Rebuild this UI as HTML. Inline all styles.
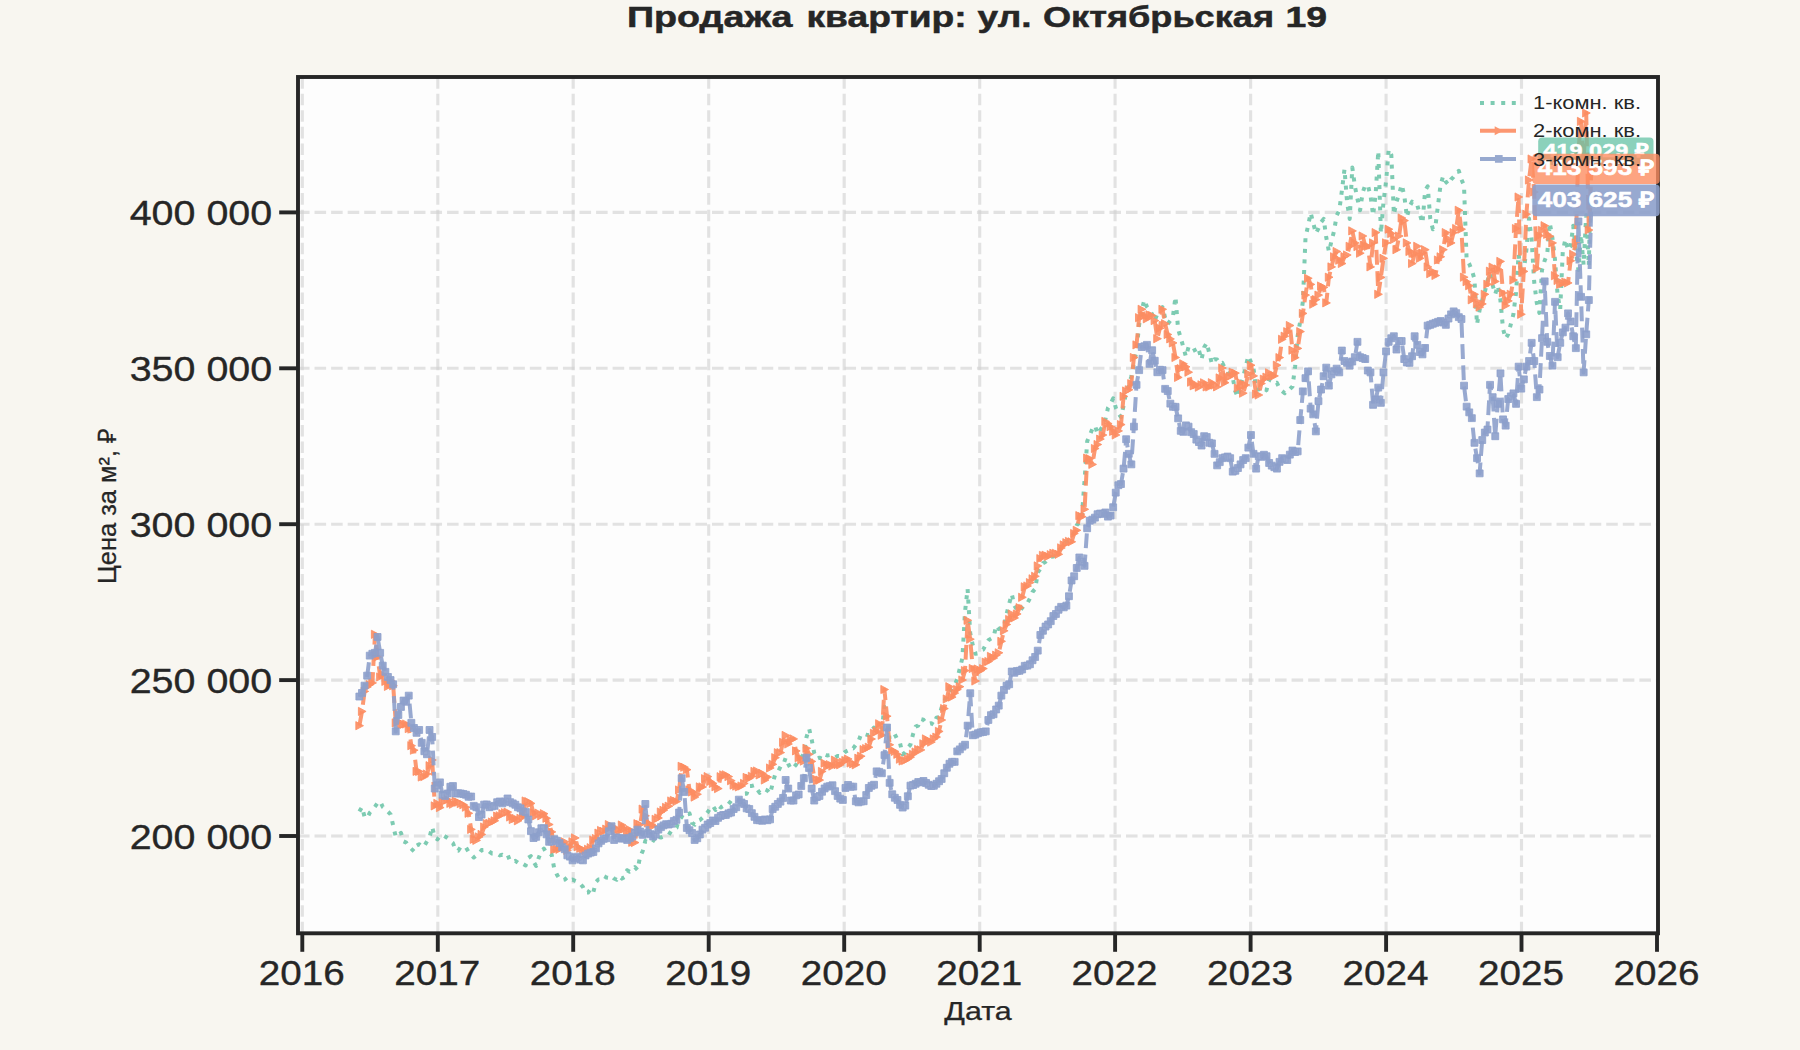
<!DOCTYPE html><html><head><meta charset="utf-8"><style>html,body{margin:0;padding:0;background:#f8f6f0}svg{display:block}text{font-family:"Liberation Sans",sans-serif}</style></head><body>
<svg width="1800" height="1050" viewBox="0 0 1800 1050">
<rect width="1800" height="1050" fill="#f8f6f0"/>
<rect x="298" y="77" width="1360" height="856.3" fill="#fdfdfd"/>
<g stroke="#d0d0d0" stroke-opacity="0.6" stroke-width="3.125" stroke-dasharray="11.56 5" fill="none">
<path d="M302.3,933.3V77"/>
<path d="M437.8,933.3V77"/>
<path d="M573.2,933.3V77"/>
<path d="M708.7,933.3V77"/>
<path d="M844.2,933.3V77"/>
<path d="M979.7,933.3V77"/>
<path d="M1115.1,933.3V77"/>
<path d="M1250.6,933.3V77"/>
<path d="M1386.1,933.3V77"/>
<path d="M1521.5,933.3V77"/>
<path d="M298,212.4H1658"/>
<path d="M298,368.3H1658"/>
<path d="M298,524.2H1658"/>
<path d="M298,680.1H1658"/>
<path d="M298,836.0H1658"/>
</g>
<clipPath id="c"><rect x="298" y="77" width="1360" height="856.3"/></clipPath>
<g clip-path="url(#c)">
<path d="M359.4,811.4 L362.0,807.0 L364.6,817.0 L367.2,818.0 L369.8,812.7 L372.4,810.0 L375.0,806.6 L377.6,802.9 L380.2,801.4 L382.8,807.0 L385.4,809.1 L388.0,811.7 L390.6,814.3 L393.2,825.7 L395.8,837.0 L398.4,835.0 L401.0,832.9 L403.6,841.4 L406.2,842.6 L408.8,846.5 L411.4,848.9 L414.0,851.4 L416.6,845.7 L419.2,844.2 L421.8,847.0 L424.4,845.8 L427.0,841.3 L429.6,837.0 L432.2,827.0 L434.8,837.5 L437.4,839.4 L440.0,835.9 L442.6,835.0 L445.2,836.5 L447.8,838.3 L450.4,841.2 L453.0,843.2 L455.6,849.9 L458.2,850.7 L460.8,846.6 L463.4,847.4 L466.0,847.5 L468.6,851.9 L471.2,854.8 L473.8,857.5 L476.4,855.4 L479.0,853.8 L481.6,850.1 L484.2,849.9 L486.8,849.5 L489.4,851.7 L492.0,853.5 L494.6,853.4 L497.2,853.5 L499.8,855.4 L502.4,854.8 L505.0,856.2 L507.6,854.8 L510.2,861.3 L512.8,861.6 L515.3,860.8 L517.9,862.7 L520.5,864.7 L523.1,863.9 L525.7,865.4 L528.3,857.9 L530.9,856.2 L533.5,861.7 L536.1,866.0 L538.7,857.9 L541.3,851.2 L543.9,848.6 L546.5,853.1 L549.1,853.3 L551.7,854.8 L554.3,869.1 L556.9,874.6 L559.5,878.8 L562.1,880.2 L564.7,879.6 L567.3,877.4 L569.9,880.2 L572.5,879.6 L575.1,880.8 L577.7,881.8 L580.3,883.9 L582.9,886.9 L585.5,892.6 L588.1,892.6 L590.7,888.8 L593.3,892.3 L595.9,882.0 L598.5,879.4 L601.1,879.2 L603.7,876.0 L606.3,877.4 L608.9,877.8 L611.5,876.0 L614.1,878.5 L616.7,879.7 L619.3,876.2 L621.9,878.6 L624.5,877.1 L627.1,870.2 L629.7,871.7 L632.3,869.9 L634.9,867.2 L637.5,870.0 L640.1,856.7 L642.7,851.1 L645.3,840.9 L647.9,842.7 L650.5,840.0 L653.1,840.0 L655.7,841.8 L658.3,837.0 L660.9,837.5 L663.5,836.6 L666.1,836.0 L668.7,834.9 L671.3,830.8 L673.9,829.3 L676.5,827.8 L679.1,819.4 L681.7,816.7 L684.3,818.1 L686.9,814.8 L689.5,813.4 L692.1,822.9 L694.7,824.7 L697.3,821.2 L699.9,820.1 L702.5,817.7 L705.1,815.7 L707.7,812.2 L710.3,808.3 L712.9,805.9 L715.5,810.0 L718.1,805.3 L720.7,807.4 L723.3,805.9 L725.9,804.0 L728.5,804.1 L731.1,800.8 L733.7,801.4 L736.3,799.9 L738.9,800.0 L741.5,796.7 L744.1,793.9 L746.7,793.7 L749.3,786.0 L751.9,785.9 L754.5,785.1 L757.1,789.2 L759.7,792.9 L762.3,790.1 L764.9,789.4 L767.5,790.5 L770.1,793.7 L772.7,783.4 L775.3,774.0 L777.9,771.9 L780.5,766.7 L783.1,765.4 L785.7,757.7 L788.3,764.0 L790.9,768.9 L793.5,767.6 L796.1,764.6 L798.7,760.1 L801.3,757.1 L803.9,754.3 L806.5,737.1 L809.1,728.6 L811.7,739.7 L814.3,753.4 L816.9,758.8 L819.5,757.7 L822.0,758.7 L824.6,754.4 L827.2,755.5 L829.8,755.1 L832.4,756.4 L835.0,757.7 L837.6,756.0 L840.2,756.2 L842.8,754.6 L845.4,751.7 L848.0,750.5 L850.6,748.0 L853.2,748.4 L855.8,744.8 L858.4,741.7 L861.0,734.3 L863.6,733.8 L866.2,734.6 L868.8,735.2 L871.4,730.8 L874.0,727.6 L876.6,729.4 L879.2,727.9 L881.8,729.5 L884.4,706.7 L887.0,718.1 L889.6,739.0 L892.2,738.1 L894.8,734.3 L897.4,739.6 L900.0,742.9 L902.6,754.3 L905.2,752.5 L907.8,747.5 L910.4,744.8 L913.0,734.3 L915.6,726.7 L918.2,725.6 L920.8,719.0 L923.4,719.7 L926.0,723.3 L928.6,723.8 L931.2,723.2 L933.8,724.8 L936.4,717.8 L939.0,717.1 L941.6,707.6 L944.2,702.0 L946.8,695.2 L949.4,692.3 L952.0,688.4 L954.6,685.7 L957.2,679.0 L959.8,668.5 L962.4,658.0 L965.0,611.9 L967.6,588.9 L970.2,632.9 L972.8,645.4 L975.4,653.8 L978.0,653.4 L980.6,650.5 L983.2,649.6 L985.8,644.4 L988.4,640.2 L991.0,638.6 L993.6,637.1 L996.2,625.5 L998.8,629.0 L1001.4,627.7 L1004.0,626.6 L1006.6,614.0 L1009.2,603.6 L1011.8,594.1 L1014.4,605.7 L1017.0,609.7 L1019.6,611.9 L1022.2,607.8 L1024.8,604.5 L1027.4,603.2 L1030.0,598.3 L1032.6,591.8 L1035.2,588.9 L1037.8,572.4 L1040.4,569.0 L1043.0,563.2 L1045.6,561.7 L1048.2,558.9 L1050.8,556.8 L1053.4,556.4 L1056.0,551.0 L1058.6,550.2 L1061.2,548.5 L1063.8,545.4 L1066.4,541.8 L1069.0,540.8 L1071.6,536.5 L1074.2,532.6 L1076.8,525.0 L1079.4,522.6 L1082.0,514.6 L1084.6,480.0 L1087.2,441.3 L1089.8,435.0 L1092.4,428.7 L1095.0,425.6 L1097.6,434.0 L1100.2,430.0 L1102.8,426.4 L1105.4,419.3 L1108.0,407.8 L1110.6,403.8 L1113.2,398.4 L1115.8,407.8 L1118.4,413.5 L1121.0,417.2 L1123.6,405.7 L1126.2,392.0 L1128.8,385.7 L1131.3,376.4 L1133.9,362.9 L1136.5,351.2 L1139.1,325.0 L1141.7,310.4 L1144.3,299.9 L1146.9,306.7 L1149.5,310.4 L1152.1,314.2 L1154.7,320.9 L1157.3,314.0 L1159.9,311.3 L1162.5,307.2 L1165.1,317.7 L1167.7,324.0 L1170.3,320.7 L1172.9,316.7 L1175.5,296.8 L1178.1,329.2 L1180.7,337.6 L1183.3,347.0 L1185.9,356.5 L1188.5,347.3 L1191.1,346.0 L1193.7,348.0 L1196.3,353.5 L1198.9,350.2 L1201.5,359.6 L1204.1,347.5 L1206.7,342.9 L1209.3,353.3 L1211.9,363.8 L1214.5,359.3 L1217.1,359.6 L1219.7,363.7 L1222.3,362.8 L1224.9,368.3 L1227.5,372.2 L1230.1,376.2 L1232.7,377.4 L1235.3,391.3 L1237.9,397.2 L1240.5,384.8 L1243.1,377.4 L1245.7,366.7 L1248.3,356.0 L1250.9,362.0 L1253.5,368.2 L1256.1,389.6 L1258.7,389.5 L1261.3,387.3 L1263.9,388.1 L1266.5,390.3 L1269.1,379.7 L1271.7,380.8 L1274.3,383.6 L1276.9,382.7 L1279.5,388.5 L1282.1,391.1 L1284.7,393.2 L1287.3,389.6 L1289.9,389.1 L1292.5,386.5 L1295.1,366.7 L1297.7,335.5 L1300.3,321.0 L1302.9,301.2 L1305.5,237.7 L1308.1,225.7 L1310.7,212.9 L1313.3,223.2 L1315.9,233.4 L1318.5,228.3 L1321.1,222.3 L1323.7,218.9 L1326.3,237.7 L1328.9,251.5 L1331.5,241.2 L1334.1,230.9 L1336.7,215.4 L1339.3,210.3 L1341.9,190.6 L1344.5,169.1 L1347.1,202.6 L1349.7,218.9 L1352.3,167.4 L1354.9,186.3 L1357.5,199.2 L1360.1,210.3 L1362.7,192.3 L1365.3,185.2 L1367.9,185.4 L1370.5,195.7 L1373.1,215.4 L1375.7,193.2 L1378.3,151.1 L1380.9,233.4 L1383.5,201.7 L1386.1,181.0 L1388.7,149.4 L1391.3,154.6 L1393.9,214.6 L1396.5,201.8 L1399.1,194.0 L1401.7,184.6 L1404.3,195.7 L1406.9,217.2 L1409.5,206.6 L1412.1,201.7 L1414.7,204.7 L1417.3,205.2 L1419.9,214.6 L1422.5,223.2 L1425.1,190.6 L1427.7,186.3 L1430.3,218.9 L1432.9,229.2 L1435.5,225.7 L1438.0,205.2 L1440.6,184.6 L1443.2,176.0 L1445.8,181.7 L1448.4,184.6 L1451.0,179.5 L1453.6,176.9 L1456.2,173.1 L1458.8,170.9 L1461.4,179.4 L1464.0,185.4 L1466.6,259.2 L1469.2,263.8 L1471.8,270.3 L1474.4,278.6 L1477.0,324.3 L1479.6,310.0 L1482.2,300.0 L1484.8,292.0 L1487.4,281.0 L1490.0,272.9 L1492.6,285.0 L1495.2,294.3 L1497.8,285.7 L1500.4,300.0 L1503.0,328.6 L1505.6,338.6 L1508.2,334.3 L1510.8,324.3 L1513.4,314.3 L1516.0,292.9 L1518.6,254.3 L1521.2,274.3 L1523.8,270.0 L1526.4,249.8 L1529.0,218.6 L1531.6,239.3 L1534.2,282.1 L1536.8,302.9 L1539.4,312.9 L1542.0,270.0 L1544.6,260.7 L1547.2,254.3 L1549.8,222.9 L1552.4,237.9 L1555.0,259.7 L1557.6,295.0 L1560.2,309.3 L1562.8,250.9 L1565.4,239.3 L1568.0,250.1 L1570.6,246.4 L1573.2,225.7 L1575.8,250.0 L1578.4,270.0 L1581.0,235.0 L1583.6,265.0 L1586.2,215.0 L1588.8,265.7 L1591.4,153.1" fill="none" stroke="#66c2a5" stroke-opacity="0.85" stroke-width="4" stroke-dasharray="4 6.6" stroke-linejoin="round"/>
<path d="M359.4,725.7 L362.0,711.4 L364.6,691.4 L367.2,687.0 L369.8,684.7 L372.4,682.9 L375.0,634.3 L377.6,657.0 L380.2,677.0 L382.8,674.5 L385.4,681.4 L388.0,686.4 L390.6,680.4 L393.2,685.7 L395.8,722.9 L398.4,721.6 L401.0,725.0 L403.6,724.3 L406.2,724.0 L408.8,728.6 L411.4,745.7 L414.0,750.2 L416.6,771.4 L419.2,771.5 L421.8,777.0 L424.4,776.6 L427.0,774.0 L429.6,765.7 L432.2,760.0 L434.8,805.9 L437.4,803.4 L440.0,807.6 L442.6,801.8 L445.2,801.0 L447.8,799.7 L450.4,803.4 L453.0,804.2 L455.6,801.2 L458.2,802.2 L460.8,803.6 L463.4,804.7 L466.0,807.2 L468.6,813.3 L471.2,829.4 L473.8,839.3 L476.4,840.4 L479.0,836.9 L481.6,834.4 L484.2,827.0 L486.8,823.6 L489.4,823.3 L492.0,822.0 L494.6,820.8 L497.2,816.1 L499.8,815.8 L502.4,813.6 L505.0,812.7 L507.6,812.1 L510.2,817.0 L512.8,819.5 L515.3,818.3 L517.9,820.8 L520.5,818.3 L523.1,816.0 L525.7,801.0 L528.3,801.6 L530.9,803.4 L533.5,812.7 L536.1,815.8 L538.7,813.2 L541.3,815.8 L543.9,813.7 L546.5,818.3 L549.1,824.5 L551.7,831.9 L554.3,849.3 L556.9,849.0 L559.5,849.3 L562.1,843.6 L564.7,841.8 L567.3,850.3 L569.9,846.8 L572.5,841.8 L575.1,837.9 L577.7,846.8 L580.3,848.3 L582.9,850.5 L585.5,850.8 L588.1,849.3 L590.7,847.7 L593.3,840.0 L595.9,838.5 L598.5,833.1 L601.1,830.5 L603.7,831.4 L606.3,829.1 L608.9,824.6 L611.5,827.1 L614.1,827.2 L616.7,829.7 L619.3,831.1 L621.9,825.0 L624.5,828.9 L627.1,833.3 L629.7,829.7 L632.3,842.3 L634.9,842.6 L637.5,823.7 L640.1,824.6 L642.7,809.1 L645.3,815.8 L647.9,822.9 L650.5,824.9 L653.1,826.0 L655.7,819.3 L658.3,818.0 L660.9,812.0 L663.5,810.3 L666.1,807.4 L668.7,806.2 L671.3,801.0 L673.9,800.4 L676.5,801.5 L679.1,790.0 L681.7,766.3 L684.3,767.2 L686.9,769.7 L689.5,789.9 L692.1,792.0 L694.7,797.1 L697.3,794.3 L699.9,786.9 L702.5,786.9 L705.1,778.7 L707.7,776.6 L710.3,781.5 L712.9,783.4 L715.5,786.8 L718.1,788.6 L720.7,776.7 L723.3,774.9 L725.9,774.8 L728.5,776.6 L731.1,780.7 L733.7,785.1 L736.3,786.1 L738.9,786.9 L741.5,786.0 L744.1,783.4 L746.7,777.4 L749.3,778.3 L751.9,776.3 L754.5,771.4 L757.1,771.0 L759.7,774.9 L762.3,773.4 L764.9,780.0 L767.5,777.1 L770.1,768.0 L772.7,764.3 L775.3,757.7 L777.9,752.7 L780.5,752.6 L783.1,742.3 L785.7,735.4 L788.3,744.0 L790.9,740.0 L793.5,738.9 L796.1,750.9 L798.7,757.7 L801.3,759.8 L803.9,761.1 L806.5,748.3 L809.1,754.3 L811.7,761.4 L814.3,778.3 L816.9,780.9 L819.5,780.1 L822.0,771.4 L824.6,763.2 L827.2,766.3 L829.8,764.6 L832.4,766.1 L835.0,760.1 L837.6,764.6 L840.2,764.8 L842.8,762.2 L845.4,760.5 L848.0,759.0 L850.6,763.0 L853.2,763.8 L855.8,764.8 L858.4,758.2 L861.0,756.2 L863.6,749.6 L866.2,748.6 L868.8,747.2 L871.4,739.0 L874.0,733.3 L876.6,731.3 L879.2,723.8 L881.8,735.2 L884.4,689.5 L887.0,716.2 L889.6,744.8 L892.2,750.5 L894.8,751.4 L897.4,754.3 L900.0,759.2 L902.6,761.0 L905.2,760.5 L907.8,759.0 L910.4,757.2 L913.0,754.3 L915.6,752.0 L918.2,749.5 L920.8,749.9 L923.4,743.8 L926.0,738.9 L928.6,741.0 L931.2,742.1 L933.8,738.9 L936.4,737.1 L939.0,731.4 L941.6,720.0 L944.2,708.6 L946.8,699.0 L949.4,686.7 L952.0,697.1 L954.6,693.1 L957.2,689.5 L959.8,686.7 L962.4,680.0 L965.0,670.6 L967.6,620.3 L970.2,639.2 L972.8,668.5 L975.4,681.0 L978.0,669.0 L980.6,670.6 L983.2,668.6 L985.8,662.2 L988.4,661.5 L991.0,656.4 L993.6,658.0 L996.2,655.2 L998.8,652.8 L1001.4,641.3 L1004.0,630.8 L1006.6,624.5 L1009.2,619.5 L1011.8,614.0 L1014.4,617.9 L1017.0,614.0 L1019.6,607.7 L1022.2,597.3 L1024.8,586.8 L1027.4,586.0 L1030.0,582.6 L1032.6,578.8 L1035.2,576.3 L1037.8,565.9 L1040.4,558.6 L1043.0,555.4 L1045.6,555.2 L1048.2,556.4 L1050.8,554.7 L1053.4,553.3 L1056.0,553.3 L1058.6,554.3 L1061.2,547.9 L1063.8,544.9 L1066.4,542.7 L1069.0,541.4 L1071.6,541.8 L1074.2,533.5 L1076.8,530.3 L1079.4,515.6 L1082.0,516.7 L1084.6,509.3 L1087.2,458.1 L1089.8,458.7 L1092.4,464.4 L1095.0,448.5 L1097.6,444.5 L1100.2,439.1 L1102.8,435.0 L1105.4,421.4 L1108.0,423.6 L1110.6,426.7 L1113.2,431.4 L1115.8,435.0 L1118.4,430.9 L1121.0,424.6 L1123.6,396.3 L1126.2,391.0 L1128.8,389.8 L1131.3,383.7 L1133.9,357.5 L1136.5,344.9 L1139.1,317.7 L1141.7,309.3 L1144.3,315.7 L1146.9,318.8 L1149.5,314.8 L1152.1,315.6 L1154.7,320.6 L1157.3,338.7 L1159.9,328.2 L1162.5,309.3 L1165.1,323.7 L1167.7,334.5 L1170.3,338.9 L1172.9,342.9 L1175.5,357.5 L1178.1,377.4 L1180.7,368.7 L1183.3,363.8 L1185.9,366.8 L1188.5,372.2 L1191.1,382.2 L1193.7,385.8 L1196.3,384.9 L1198.9,387.2 L1201.5,384.8 L1204.1,382.8 L1206.7,386.9 L1209.3,387.0 L1211.9,382.7 L1214.5,385.1 L1217.1,386.9 L1219.7,377.9 L1222.3,368.0 L1224.9,382.7 L1227.5,377.1 L1230.1,376.4 L1232.7,372.2 L1235.3,373.1 L1237.9,388.0 L1240.5,382.7 L1243.1,393.2 L1245.7,385.0 L1248.3,373.7 L1250.9,365.2 L1253.5,375.9 L1256.1,394.1 L1258.7,395.0 L1261.3,383.5 L1263.9,379.2 L1266.5,377.1 L1269.1,372.8 L1271.7,376.2 L1274.3,375.9 L1276.9,365.2 L1279.5,357.6 L1282.1,339.3 L1284.7,336.2 L1287.3,331.7 L1289.9,325.5 L1292.5,350.2 L1295.1,357.6 L1297.7,348.4 L1300.3,331.6 L1302.9,313.4 L1305.5,295.1 L1308.1,278.3 L1310.7,284.4 L1313.3,304.2 L1315.9,299.6 L1318.5,295.1 L1321.1,286.0 L1323.7,287.4 L1326.3,302.9 L1328.9,277.2 L1331.5,266.9 L1334.1,256.8 L1336.7,251.5 L1339.3,260.2 L1341.9,263.5 L1344.5,256.6 L1347.1,255.0 L1349.7,246.3 L1352.3,230.9 L1354.9,242.9 L1357.5,246.6 L1360.1,253.2 L1362.7,236.0 L1365.3,246.3 L1367.9,246.3 L1370.5,266.9 L1373.1,242.9 L1375.7,232.6 L1378.3,294.3 L1380.9,277.4 L1383.5,258.3 L1386.1,242.9 L1388.7,229.2 L1391.3,233.5 L1393.9,239.5 L1396.5,249.7 L1399.1,236.0 L1401.7,218.0 L1404.3,220.6 L1406.9,242.9 L1409.5,251.5 L1412.1,263.5 L1414.7,253.7 L1417.3,246.3 L1419.9,258.3 L1422.5,253.0 L1425.1,249.7 L1427.7,266.9 L1430.3,273.7 L1432.9,271.6 L1435.5,275.5 L1438.0,260.0 L1440.6,256.8 L1443.2,249.7 L1445.8,232.6 L1448.4,238.9 L1451.0,242.9 L1453.6,232.6 L1456.2,228.5 L1458.8,210.3 L1461.4,229.2 L1464.0,277.2 L1466.6,281.7 L1469.2,285.7 L1471.8,299.8 L1474.4,294.3 L1477.0,303.8 L1479.6,307.1 L1482.2,303.9 L1484.8,294.3 L1487.4,284.3 L1490.0,271.2 L1492.6,267.1 L1495.2,281.4 L1497.8,269.0 L1500.4,261.4 L1503.0,292.9 L1505.6,305.7 L1508.2,300.9 L1510.8,294.3 L1513.4,280.0 L1516.0,228.6 L1518.6,197.0 L1521.2,314.3 L1523.8,271.4 L1526.4,214.3 L1529.0,180.0 L1531.6,159.0 L1534.2,192.0 L1536.8,268.6 L1539.4,235.7 L1542.0,230.4 L1544.6,225.7 L1547.2,234.3 L1549.8,236.3 L1552.4,242.9 L1555.0,275.7 L1557.6,280.5 L1560.2,284.3 L1562.8,283.2 L1565.4,282.1 L1568.0,282.9 L1570.6,260.8 L1573.2,254.3 L1575.8,242.9 L1578.4,150.0 L1581.0,121.4 L1583.6,160.0 L1586.2,113.0 L1588.8,230.0 L1591.4,170.0" fill="none" stroke="#fc8d62" stroke-opacity="0.9" stroke-width="4" stroke-dasharray="14.8 6.4" stroke-linejoin="round"/>
<path d="M355.8,721.6L363.5,725.7L355.8,729.8zM358.4,707.3L366.1,711.4L358.4,715.5zM361.0,687.3L368.7,691.4L361.0,695.5zM363.6,682.9L371.3,687.0L363.6,691.1zM366.2,680.6L373.9,684.7L366.2,688.8zM368.8,678.8L376.5,682.9L368.8,687.0zM371.4,630.2L379.1,634.3L371.4,638.4zM374.0,652.9L381.7,657.0L374.0,661.1zM376.6,672.9L384.3,677.0L376.6,681.1zM379.2,670.4L386.9,674.5L379.2,678.6zM381.8,677.3L389.5,681.4L381.8,685.5zM384.4,682.3L392.1,686.4L384.4,690.5zM387.0,676.3L394.7,680.4L387.0,684.5zM389.6,681.6L397.3,685.7L389.6,689.8zM392.2,718.8L399.9,722.9L392.2,727.0zM394.8,717.5L402.5,721.6L394.8,725.7zM397.4,720.9L405.1,725.0L397.4,729.1zM400.0,720.2L407.7,724.3L400.0,728.4zM402.6,719.9L410.3,724.0L402.6,728.1zM405.2,724.5L412.9,728.6L405.2,732.7zM407.8,741.6L415.5,745.7L407.8,749.8zM410.4,746.1L418.1,750.2L410.4,754.3zM413.0,767.3L420.7,771.4L413.0,775.5zM415.6,767.4L423.3,771.5L415.6,775.6zM418.2,772.9L425.9,777.0L418.2,781.1zM420.8,772.5L428.5,776.6L420.8,780.7zM423.4,769.9L431.1,774.0L423.4,778.1zM426.0,761.6L433.7,765.7L426.0,769.8zM428.6,755.9L436.3,760.0L428.6,764.1zM431.2,801.8L438.9,805.9L431.2,810.0zM433.8,799.3L441.5,803.4L433.8,807.5zM436.4,803.5L444.1,807.6L436.4,811.7zM439.0,797.7L446.7,801.8L439.0,805.9zM441.6,796.9L449.3,801.0L441.6,805.1zM444.2,795.6L451.9,799.7L444.2,803.8zM446.8,799.3L454.5,803.4L446.8,807.5zM449.4,800.1L457.1,804.2L449.4,808.3zM452.0,797.1L459.7,801.2L452.0,805.3zM454.6,798.1L462.3,802.2L454.6,806.3zM457.2,799.5L464.9,803.6L457.2,807.7zM459.8,800.6L467.5,804.7L459.8,808.8zM462.4,803.1L470.1,807.2L462.4,811.3zM465.0,809.2L472.7,813.3L465.0,817.4zM467.6,825.3L475.3,829.4L467.6,833.5zM470.2,835.2L477.9,839.3L470.2,843.4zM472.8,836.3L480.5,840.4L472.8,844.5zM475.4,832.8L483.1,836.9L475.4,841.0zM478.0,830.3L485.7,834.4L478.0,838.5zM480.6,822.9L488.3,827.0L480.6,831.1zM483.2,819.5L490.9,823.6L483.2,827.7zM485.8,819.2L493.5,823.3L485.8,827.4zM488.4,817.9L496.1,822.0L488.4,826.1zM491.0,816.7L498.7,820.8L491.0,824.9zM493.6,812.0L501.3,816.1L493.6,820.2zM496.2,811.7L503.9,815.8L496.2,819.9zM498.8,809.5L506.5,813.6L498.8,817.7zM501.4,808.6L509.1,812.7L501.4,816.8zM504.0,808.0L511.7,812.1L504.0,816.2zM506.6,812.9L514.3,817.0L506.6,821.1zM509.2,815.4L516.9,819.5L509.2,823.6zM511.7,814.2L519.4,818.3L511.7,822.4zM514.3,816.7L522.0,820.8L514.3,824.9zM516.9,814.2L524.6,818.3L516.9,822.4zM519.5,811.9L527.2,816.0L519.5,820.1zM522.1,796.9L529.8,801.0L522.1,805.1zM524.7,797.5L532.4,801.6L524.7,805.7zM527.3,799.3L535.0,803.4L527.3,807.5zM529.9,808.6L537.6,812.7L529.9,816.8zM532.5,811.7L540.2,815.8L532.5,819.9zM535.1,809.1L542.8,813.2L535.1,817.3zM537.7,811.7L545.4,815.8L537.7,819.9zM540.3,809.6L548.0,813.7L540.3,817.8zM542.9,814.2L550.6,818.3L542.9,822.4zM545.5,820.4L553.2,824.5L545.5,828.6zM548.1,827.8L555.8,831.9L548.1,836.0zM550.7,845.2L558.4,849.3L550.7,853.4zM553.3,844.9L561.0,849.0L553.3,853.1zM555.9,845.2L563.6,849.3L555.9,853.4zM558.5,839.5L566.2,843.6L558.5,847.7zM561.1,837.7L568.8,841.8L561.1,845.9zM563.7,846.2L571.4,850.3L563.7,854.4zM566.3,842.7L574.0,846.8L566.3,850.9zM568.9,837.7L576.6,841.8L568.9,845.9zM571.5,833.8L579.2,837.9L571.5,842.0zM574.1,842.7L581.8,846.8L574.1,850.9zM576.7,844.2L584.4,848.3L576.7,852.4zM579.3,846.4L587.0,850.5L579.3,854.6zM581.9,846.7L589.6,850.8L581.9,854.9zM584.5,845.2L592.2,849.3L584.5,853.4zM587.1,843.6L594.8,847.7L587.1,851.8zM589.7,835.9L597.4,840.0L589.7,844.1zM592.3,834.4L600.0,838.5L592.3,842.6zM594.9,829.0L602.6,833.1L594.9,837.2zM597.5,826.4L605.2,830.5L597.5,834.6zM600.1,827.3L607.8,831.4L600.1,835.5zM602.7,825.0L610.4,829.1L602.7,833.2zM605.3,820.5L613.0,824.6L605.3,828.7zM607.9,823.0L615.6,827.1L607.9,831.2zM610.5,823.1L618.2,827.2L610.5,831.3zM613.1,825.6L620.8,829.7L613.1,833.8zM615.7,827.0L623.4,831.1L615.7,835.2zM618.3,820.9L626.0,825.0L618.3,829.1zM620.9,824.8L628.6,828.9L620.9,833.0zM623.5,829.2L631.2,833.3L623.5,837.4zM626.1,825.6L633.8,829.7L626.1,833.8zM628.7,838.2L636.4,842.3L628.7,846.4zM631.3,838.5L639.0,842.6L631.3,846.7zM633.9,819.6L641.6,823.7L633.9,827.8zM636.5,820.5L644.2,824.6L636.5,828.7zM639.1,805.0L646.8,809.1L639.1,813.2zM641.7,811.7L649.4,815.8L641.7,819.9zM644.3,818.8L652.0,822.9L644.3,827.0zM646.9,820.8L654.6,824.9L646.9,829.0zM649.5,821.9L657.2,826.0L649.5,830.1zM652.1,815.2L659.8,819.3L652.1,823.4zM654.7,813.9L662.4,818.0L654.7,822.1zM657.3,807.9L665.0,812.0L657.3,816.1zM659.9,806.2L667.6,810.3L659.9,814.4zM662.5,803.3L670.2,807.4L662.5,811.5zM665.1,802.1L672.8,806.2L665.1,810.3zM667.7,796.9L675.4,801.0L667.7,805.1zM670.3,796.3L678.0,800.4L670.3,804.5zM672.9,797.4L680.6,801.5L672.9,805.6zM675.5,785.9L683.2,790.0L675.5,794.1zM678.1,762.2L685.8,766.3L678.1,770.4zM680.7,763.1L688.4,767.2L680.7,771.3zM683.3,765.6L691.0,769.7L683.3,773.8zM685.9,785.8L693.6,789.9L685.9,794.0zM688.5,787.9L696.2,792.0L688.5,796.1zM691.1,793.0L698.8,797.1L691.1,801.2zM693.7,790.2L701.4,794.3L693.7,798.4zM696.3,782.8L704.0,786.9L696.3,791.0zM698.9,782.8L706.6,786.9L698.9,791.0zM701.5,774.6L709.2,778.7L701.5,782.8zM704.1,772.5L711.8,776.6L704.1,780.7zM706.7,777.4L714.4,781.5L706.7,785.6zM709.3,779.3L717.0,783.4L709.3,787.5zM711.9,782.7L719.6,786.8L711.9,790.9zM714.5,784.5L722.2,788.6L714.5,792.7zM717.1,772.6L724.8,776.7L717.1,780.8zM719.7,770.8L727.4,774.9L719.7,779.0zM722.3,770.7L730.0,774.8L722.3,778.9zM724.9,772.5L732.6,776.6L724.9,780.7zM727.5,776.6L735.2,780.7L727.5,784.8zM730.1,781.0L737.8,785.1L730.1,789.2zM732.7,782.0L740.4,786.1L732.7,790.2zM735.3,782.8L743.0,786.9L735.3,791.0zM737.9,781.9L745.6,786.0L737.9,790.1zM740.5,779.3L748.2,783.4L740.5,787.5zM743.1,773.3L750.8,777.4L743.1,781.5zM745.7,774.2L753.4,778.3L745.7,782.4zM748.3,772.2L756.0,776.3L748.3,780.4zM750.9,767.3L758.6,771.4L750.9,775.5zM753.5,766.9L761.2,771.0L753.5,775.1zM756.1,770.8L763.8,774.9L756.1,779.0zM758.7,769.3L766.4,773.4L758.7,777.5zM761.3,775.9L769.0,780.0L761.3,784.1zM763.9,773.0L771.6,777.1L763.9,781.2zM766.5,763.9L774.2,768.0L766.5,772.1zM769.1,760.2L776.8,764.3L769.1,768.4zM771.7,753.6L779.4,757.7L771.7,761.8zM774.3,748.6L782.0,752.7L774.3,756.8zM776.9,748.5L784.6,752.6L776.9,756.7zM779.5,738.2L787.2,742.3L779.5,746.4zM782.1,731.3L789.8,735.4L782.1,739.5zM784.7,739.9L792.4,744.0L784.7,748.1zM787.3,735.9L795.0,740.0L787.3,744.1zM789.9,734.8L797.6,738.9L789.9,743.0zM792.5,746.8L800.2,750.9L792.5,755.0zM795.1,753.6L802.8,757.7L795.1,761.8zM797.7,755.7L805.4,759.8L797.7,763.9zM800.3,757.0L808.0,761.1L800.3,765.2zM802.9,744.2L810.6,748.3L802.9,752.4zM805.5,750.2L813.2,754.3L805.5,758.4zM808.1,757.3L815.8,761.4L808.1,765.5zM810.7,774.2L818.4,778.3L810.7,782.4zM813.3,776.8L821.0,780.9L813.3,785.0zM815.9,776.0L823.6,780.1L815.9,784.2zM818.4,767.3L826.1,771.4L818.4,775.5zM821.0,759.1L828.7,763.2L821.0,767.3zM823.6,762.2L831.3,766.3L823.6,770.4zM826.2,760.5L833.9,764.6L826.2,768.7zM828.8,762.0L836.5,766.1L828.8,770.2zM831.4,756.0L839.1,760.1L831.4,764.2zM834.0,760.5L841.7,764.6L834.0,768.7zM836.6,760.7L844.3,764.8L836.6,768.9zM839.2,758.1L846.9,762.2L839.2,766.3zM841.8,756.4L849.5,760.5L841.8,764.6zM844.4,754.9L852.1,759.0L844.4,763.1zM847.0,758.9L854.7,763.0L847.0,767.1zM849.6,759.7L857.3,763.8L849.6,767.9zM852.2,760.7L859.9,764.8L852.2,768.9zM854.8,754.1L862.5,758.2L854.8,762.3zM857.4,752.1L865.1,756.2L857.4,760.3zM860.0,745.5L867.7,749.6L860.0,753.7zM862.6,744.5L870.3,748.6L862.6,752.7zM865.2,743.1L872.9,747.2L865.2,751.3zM867.8,734.9L875.5,739.0L867.8,743.1zM870.4,729.2L878.1,733.3L870.4,737.4zM873.0,727.2L880.7,731.3L873.0,735.4zM875.6,719.7L883.3,723.8L875.6,727.9zM878.2,731.1L885.9,735.2L878.2,739.3zM880.8,685.4L888.5,689.5L880.8,693.6zM883.4,712.1L891.1,716.2L883.4,720.3zM886.0,740.7L893.7,744.8L886.0,748.9zM888.6,746.4L896.3,750.5L888.6,754.6zM891.2,747.3L898.9,751.4L891.2,755.5zM893.8,750.2L901.5,754.3L893.8,758.4zM896.4,755.1L904.1,759.2L896.4,763.3zM899.0,756.9L906.7,761.0L899.0,765.1zM901.6,756.4L909.3,760.5L901.6,764.6zM904.2,754.9L911.9,759.0L904.2,763.1zM906.8,753.1L914.5,757.2L906.8,761.3zM909.4,750.2L917.1,754.3L909.4,758.4zM912.0,747.9L919.7,752.0L912.0,756.1zM914.6,745.4L922.3,749.5L914.6,753.6zM917.2,745.8L924.9,749.9L917.2,754.0zM919.8,739.7L927.5,743.8L919.8,747.9zM922.4,734.8L930.1,738.9L922.4,743.0zM925.0,736.9L932.7,741.0L925.0,745.1zM927.6,738.0L935.3,742.1L927.6,746.2zM930.2,734.8L937.9,738.9L930.2,743.0zM932.8,733.0L940.5,737.1L932.8,741.2zM935.4,727.3L943.1,731.4L935.4,735.5zM938.0,715.9L945.7,720.0L938.0,724.1zM940.6,704.5L948.3,708.6L940.6,712.7zM943.2,694.9L950.9,699.0L943.2,703.1zM945.8,682.6L953.5,686.7L945.8,690.8zM948.4,693.0L956.1,697.1L948.4,701.2zM951.0,689.0L958.7,693.1L951.0,697.2zM953.6,685.4L961.3,689.5L953.6,693.6zM956.2,682.6L963.9,686.7L956.2,690.8zM958.8,675.9L966.5,680.0L958.8,684.1zM961.4,666.5L969.1,670.6L961.4,674.7zM964.0,616.2L971.7,620.3L964.0,624.4zM966.6,635.1L974.3,639.2L966.6,643.3zM969.2,664.4L976.9,668.5L969.2,672.6zM971.8,676.9L979.5,681.0L971.8,685.1zM974.4,664.9L982.1,669.0L974.4,673.1zM977.0,666.5L984.7,670.6L977.0,674.7zM979.6,664.5L987.3,668.6L979.6,672.7zM982.2,658.1L989.9,662.2L982.2,666.3zM984.8,657.4L992.5,661.5L984.8,665.6zM987.4,652.3L995.1,656.4L987.4,660.5zM990.0,653.9L997.7,658.0L990.0,662.1zM992.6,651.1L1000.3,655.2L992.6,659.3zM995.2,648.7L1002.9,652.8L995.2,656.9zM997.8,637.2L1005.5,641.3L997.8,645.4zM1000.4,626.7L1008.1,630.8L1000.4,634.9zM1003.0,620.4L1010.7,624.5L1003.0,628.6zM1005.6,615.4L1013.3,619.5L1005.6,623.6zM1008.2,609.9L1015.9,614.0L1008.2,618.1zM1010.8,613.8L1018.5,617.9L1010.8,622.0zM1013.4,609.9L1021.1,614.0L1013.4,618.1zM1016.0,603.6L1023.7,607.7L1016.0,611.8zM1018.6,593.2L1026.3,597.3L1018.6,601.4zM1021.2,582.7L1028.9,586.8L1021.2,590.9zM1023.8,581.9L1031.5,586.0L1023.8,590.1zM1026.4,578.5L1034.1,582.6L1026.4,586.7zM1029.0,574.7L1036.7,578.8L1029.0,582.9zM1031.6,572.2L1039.3,576.3L1031.6,580.4zM1034.2,561.8L1041.9,565.9L1034.2,570.0zM1036.8,554.5L1044.5,558.6L1036.8,562.7zM1039.4,551.3L1047.1,555.4L1039.4,559.5zM1042.0,551.1L1049.7,555.2L1042.0,559.3zM1044.6,552.3L1052.3,556.4L1044.6,560.5zM1047.2,550.6L1054.9,554.7L1047.2,558.8zM1049.8,549.2L1057.5,553.3L1049.8,557.4zM1052.4,549.2L1060.1,553.3L1052.4,557.4zM1055.0,550.2L1062.7,554.3L1055.0,558.4zM1057.6,543.8L1065.3,547.9L1057.6,552.0zM1060.2,540.8L1067.9,544.9L1060.2,549.0zM1062.8,538.6L1070.5,542.7L1062.8,546.8zM1065.4,537.3L1073.1,541.4L1065.4,545.5zM1068.0,537.7L1075.7,541.8L1068.0,545.9zM1070.6,529.4L1078.3,533.5L1070.6,537.6zM1073.2,526.2L1080.9,530.3L1073.2,534.4zM1075.8,511.5L1083.5,515.6L1075.8,519.7zM1078.4,512.6L1086.1,516.7L1078.4,520.8zM1081.0,505.2L1088.7,509.3L1081.0,513.4zM1083.6,454.0L1091.3,458.1L1083.6,462.2zM1086.2,454.6L1093.9,458.7L1086.2,462.8zM1088.8,460.3L1096.5,464.4L1088.8,468.5zM1091.4,444.4L1099.1,448.5L1091.4,452.6zM1094.0,440.4L1101.7,444.5L1094.0,448.6zM1096.6,435.0L1104.3,439.1L1096.6,443.2zM1099.2,430.9L1106.9,435.0L1099.2,439.1zM1101.8,417.3L1109.5,421.4L1101.8,425.5zM1104.4,419.5L1112.1,423.6L1104.4,427.7zM1107.0,422.6L1114.7,426.7L1107.0,430.8zM1109.6,427.3L1117.3,431.4L1109.6,435.5zM1112.2,430.9L1119.9,435.0L1112.2,439.1zM1114.8,426.8L1122.5,430.9L1114.8,435.0zM1117.4,420.5L1125.1,424.6L1117.4,428.7zM1120.0,392.2L1127.7,396.3L1120.0,400.4zM1122.6,386.9L1130.3,391.0L1122.6,395.1zM1125.2,385.7L1132.9,389.8L1125.2,393.9zM1127.7,379.6L1135.4,383.7L1127.7,387.8zM1130.3,353.4L1138.0,357.5L1130.3,361.6zM1132.9,340.8L1140.6,344.9L1132.9,349.0zM1135.5,313.6L1143.2,317.7L1135.5,321.8zM1138.1,305.2L1145.8,309.3L1138.1,313.4zM1140.7,311.6L1148.4,315.7L1140.7,319.8zM1143.3,314.7L1151.0,318.8L1143.3,322.9zM1145.9,310.7L1153.6,314.8L1145.9,318.9zM1148.5,311.5L1156.2,315.6L1148.5,319.7zM1151.1,316.5L1158.8,320.6L1151.1,324.7zM1153.7,334.6L1161.4,338.7L1153.7,342.8zM1156.3,324.1L1164.0,328.2L1156.3,332.3zM1158.9,305.2L1166.6,309.3L1158.9,313.4zM1161.5,319.6L1169.2,323.7L1161.5,327.8zM1164.1,330.4L1171.8,334.5L1164.1,338.6zM1166.7,334.8L1174.4,338.9L1166.7,343.0zM1169.3,338.8L1177.0,342.9L1169.3,347.0zM1171.9,353.4L1179.6,357.5L1171.9,361.6zM1174.5,373.3L1182.2,377.4L1174.5,381.5zM1177.1,364.6L1184.8,368.7L1177.1,372.8zM1179.7,359.7L1187.4,363.8L1179.7,367.9zM1182.3,362.7L1190.0,366.8L1182.3,370.9zM1184.9,368.1L1192.6,372.2L1184.9,376.3zM1187.5,378.1L1195.2,382.2L1187.5,386.3zM1190.1,381.7L1197.8,385.8L1190.1,389.9zM1192.7,380.8L1200.4,384.9L1192.7,389.0zM1195.3,383.1L1203.0,387.2L1195.3,391.3zM1197.9,380.7L1205.6,384.8L1197.9,388.9zM1200.5,378.7L1208.2,382.8L1200.5,386.9zM1203.1,382.8L1210.8,386.9L1203.1,391.0zM1205.7,382.9L1213.4,387.0L1205.7,391.1zM1208.3,378.6L1216.0,382.7L1208.3,386.8zM1210.9,381.0L1218.6,385.1L1210.9,389.2zM1213.5,382.8L1221.2,386.9L1213.5,391.0zM1216.1,373.8L1223.8,377.9L1216.1,382.0zM1218.7,363.9L1226.4,368.0L1218.7,372.1zM1221.3,378.6L1229.0,382.7L1221.3,386.8zM1223.9,373.0L1231.6,377.1L1223.9,381.2zM1226.5,372.3L1234.2,376.4L1226.5,380.5zM1229.1,368.1L1236.8,372.2L1229.1,376.3zM1231.7,369.0L1239.4,373.1L1231.7,377.2zM1234.3,383.9L1242.0,388.0L1234.3,392.1zM1236.9,378.6L1244.6,382.7L1236.9,386.8zM1239.5,389.1L1247.2,393.2L1239.5,397.3zM1242.1,380.9L1249.8,385.0L1242.1,389.1zM1244.7,369.6L1252.4,373.7L1244.7,377.8zM1247.3,361.1L1255.0,365.2L1247.3,369.3zM1249.9,371.8L1257.6,375.9L1249.9,380.0zM1252.5,390.0L1260.2,394.1L1252.5,398.2zM1255.1,390.9L1262.8,395.0L1255.1,399.1zM1257.7,379.4L1265.4,383.5L1257.7,387.6zM1260.3,375.1L1268.0,379.2L1260.3,383.3zM1262.9,373.0L1270.6,377.1L1262.9,381.2zM1265.5,368.7L1273.2,372.8L1265.5,376.9zM1268.1,372.1L1275.8,376.2L1268.1,380.3zM1270.7,371.8L1278.4,375.9L1270.7,380.0zM1273.3,361.1L1281.0,365.2L1273.3,369.3zM1275.9,353.5L1283.6,357.6L1275.9,361.7zM1278.5,335.2L1286.2,339.3L1278.5,343.4zM1281.1,332.1L1288.8,336.2L1281.1,340.3zM1283.7,327.6L1291.4,331.7L1283.7,335.8zM1286.3,321.4L1294.0,325.5L1286.3,329.6zM1288.9,346.1L1296.6,350.2L1288.9,354.3zM1291.5,353.5L1299.2,357.6L1291.5,361.7zM1294.1,344.3L1301.8,348.4L1294.1,352.5zM1296.7,327.5L1304.4,331.6L1296.7,335.7zM1299.3,309.3L1307.0,313.4L1299.3,317.5zM1301.9,291.0L1309.6,295.1L1301.9,299.2zM1304.5,274.2L1312.2,278.3L1304.5,282.4zM1307.1,280.3L1314.8,284.4L1307.1,288.5zM1309.7,300.1L1317.4,304.2L1309.7,308.3zM1312.3,295.5L1320.0,299.6L1312.3,303.7zM1314.9,291.0L1322.6,295.1L1314.9,299.2zM1317.5,281.9L1325.2,286.0L1317.5,290.1zM1320.1,283.3L1327.8,287.4L1320.1,291.5zM1322.7,298.8L1330.4,302.9L1322.7,307.0zM1325.3,273.1L1333.0,277.2L1325.3,281.3zM1327.9,262.8L1335.6,266.9L1327.9,271.0zM1330.5,252.7L1338.2,256.8L1330.5,260.9zM1333.1,247.4L1340.8,251.5L1333.1,255.6zM1335.7,256.1L1343.4,260.2L1335.7,264.3zM1338.3,259.4L1346.0,263.5L1338.3,267.6zM1340.9,252.5L1348.6,256.6L1340.9,260.7zM1343.5,250.9L1351.2,255.0L1343.5,259.1zM1346.1,242.2L1353.8,246.3L1346.1,250.4zM1348.7,226.8L1356.4,230.9L1348.7,235.0zM1351.3,238.8L1359.0,242.9L1351.3,247.0zM1353.9,242.5L1361.6,246.6L1353.9,250.7zM1356.5,249.1L1364.2,253.2L1356.5,257.3zM1359.1,231.9L1366.8,236.0L1359.1,240.1zM1361.7,242.2L1369.4,246.3L1361.7,250.4zM1364.3,242.2L1372.0,246.3L1364.3,250.4zM1366.9,262.8L1374.6,266.9L1366.9,271.0zM1369.5,238.8L1377.2,242.9L1369.5,247.0zM1372.1,228.5L1379.8,232.6L1372.1,236.7zM1374.7,290.2L1382.4,294.3L1374.7,298.4zM1377.3,273.3L1385.0,277.4L1377.3,281.5zM1379.9,254.2L1387.6,258.3L1379.9,262.4zM1382.5,238.8L1390.2,242.9L1382.5,247.0zM1385.1,225.1L1392.8,229.2L1385.1,233.3zM1387.7,229.4L1395.4,233.5L1387.7,237.6zM1390.3,235.4L1398.0,239.5L1390.3,243.6zM1392.9,245.6L1400.6,249.7L1392.9,253.8zM1395.5,231.9L1403.2,236.0L1395.5,240.1zM1398.1,213.9L1405.8,218.0L1398.1,222.1zM1400.7,216.5L1408.4,220.6L1400.7,224.7zM1403.3,238.8L1411.0,242.9L1403.3,247.0zM1405.9,247.4L1413.6,251.5L1405.9,255.6zM1408.5,259.4L1416.2,263.5L1408.5,267.6zM1411.1,249.6L1418.8,253.7L1411.1,257.8zM1413.7,242.2L1421.4,246.3L1413.7,250.4zM1416.3,254.2L1424.0,258.3L1416.3,262.4zM1418.9,248.9L1426.6,253.0L1418.9,257.1zM1421.5,245.6L1429.2,249.7L1421.5,253.8zM1424.1,262.8L1431.8,266.9L1424.1,271.0zM1426.7,269.6L1434.4,273.7L1426.7,277.8zM1429.3,267.5L1437.0,271.6L1429.3,275.7zM1431.9,271.4L1439.6,275.5L1431.9,279.6zM1434.4,255.9L1442.1,260.0L1434.4,264.1zM1437.0,252.7L1444.7,256.8L1437.0,260.9zM1439.6,245.6L1447.3,249.7L1439.6,253.8zM1442.2,228.5L1449.9,232.6L1442.2,236.7zM1444.8,234.8L1452.5,238.9L1444.8,243.0zM1447.4,238.8L1455.1,242.9L1447.4,247.0zM1450.0,228.5L1457.7,232.6L1450.0,236.7zM1452.6,224.4L1460.3,228.5L1452.6,232.6zM1455.2,206.2L1462.9,210.3L1455.2,214.4zM1457.8,225.1L1465.5,229.2L1457.8,233.3zM1460.4,273.1L1468.1,277.2L1460.4,281.3zM1463.0,277.6L1470.7,281.7L1463.0,285.8zM1465.6,281.6L1473.3,285.7L1465.6,289.8zM1468.2,295.7L1475.9,299.8L1468.2,303.9zM1470.8,290.2L1478.5,294.3L1470.8,298.4zM1473.4,299.7L1481.1,303.8L1473.4,307.9zM1476.0,303.0L1483.7,307.1L1476.0,311.2zM1478.6,299.8L1486.3,303.9L1478.6,308.0zM1481.2,290.2L1488.9,294.3L1481.2,298.4zM1483.8,280.2L1491.5,284.3L1483.8,288.4zM1486.4,267.1L1494.1,271.2L1486.4,275.3zM1489.0,263.0L1496.7,267.1L1489.0,271.2zM1491.6,277.3L1499.3,281.4L1491.6,285.5zM1494.2,264.9L1501.9,269.0L1494.2,273.1zM1496.8,257.3L1504.5,261.4L1496.8,265.5zM1499.4,288.8L1507.1,292.9L1499.4,297.0zM1502.0,301.6L1509.7,305.7L1502.0,309.8zM1504.6,296.8L1512.3,300.9L1504.6,305.0zM1507.2,290.2L1514.9,294.3L1507.2,298.4zM1509.8,275.9L1517.5,280.0L1509.8,284.1zM1512.4,224.5L1520.1,228.6L1512.4,232.7zM1515.0,192.9L1522.7,197.0L1515.0,201.1zM1517.6,310.2L1525.3,314.3L1517.6,318.4zM1520.2,267.3L1527.9,271.4L1520.2,275.5zM1522.8,210.2L1530.5,214.3L1522.8,218.4zM1525.4,175.9L1533.1,180.0L1525.4,184.1zM1528.0,154.9L1535.7,159.0L1528.0,163.1zM1530.6,187.9L1538.3,192.0L1530.6,196.1zM1533.2,264.5L1540.9,268.6L1533.2,272.7zM1535.8,231.6L1543.5,235.7L1535.8,239.8zM1538.4,226.3L1546.1,230.4L1538.4,234.5zM1541.0,221.6L1548.7,225.7L1541.0,229.8zM1543.6,230.2L1551.3,234.3L1543.6,238.4zM1546.2,232.2L1553.9,236.3L1546.2,240.4zM1548.8,238.8L1556.5,242.9L1548.8,247.0zM1551.4,271.6L1559.1,275.7L1551.4,279.8zM1554.0,276.4L1561.7,280.5L1554.0,284.6zM1556.6,280.2L1564.3,284.3L1556.6,288.4zM1559.2,279.1L1566.9,283.2L1559.2,287.3zM1561.8,278.0L1569.5,282.1L1561.8,286.2zM1564.4,278.8L1572.1,282.9L1564.4,287.0zM1567.0,256.7L1574.7,260.8L1567.0,264.9zM1569.6,250.2L1577.3,254.3L1569.6,258.4zM1572.2,238.8L1579.9,242.9L1572.2,247.0zM1574.8,145.9L1582.5,150.0L1574.8,154.1zM1577.4,117.3L1585.1,121.4L1577.4,125.5zM1580.0,155.9L1587.7,160.0L1580.0,164.1zM1582.6,108.9L1590.3,113.0L1582.6,117.1zM1585.2,225.9L1592.9,230.0L1585.2,234.1zM1587.8,165.9L1595.5,170.0L1587.8,174.1z" fill="#fc8d62" fill-opacity="0.9" stroke="#fc8d62" stroke-width="0.8" stroke-linejoin="round"/>
<path d="M359.4,696.6 L362.0,692.9 L364.6,685.7 L367.2,675.7 L369.8,655.7 L372.4,653.7 L375.0,652.9 L377.6,637.0 L380.2,652.9 L382.8,665.7 L385.4,671.9 L388.0,677.0 L390.6,680.0 L393.2,684.3 L395.8,731.4 L398.4,715.0 L401.0,707.0 L403.6,700.6 L406.2,701.8 L408.8,695.7 L411.4,722.9 L414.0,727.9 L416.6,732.9 L419.2,730.0 L421.8,742.9 L424.4,751.2 L427.0,754.3 L429.6,730.0 L432.2,737.0 L434.8,788.6 L437.4,785.3 L440.0,782.4 L442.6,794.8 L445.2,796.0 L447.8,793.5 L450.4,786.8 L453.0,786.1 L455.6,793.5 L458.2,793.3 L460.8,793.5 L463.4,794.1 L466.0,794.8 L468.6,796.8 L471.2,796.6 L473.8,805.9 L476.4,807.2 L479.0,817.1 L481.6,814.6 L484.2,804.7 L486.8,804.4 L489.4,807.2 L492.0,806.3 L494.6,805.9 L497.2,802.2 L499.8,801.5 L502.4,803.4 L505.0,801.6 L507.6,798.5 L510.2,802.1 L512.8,803.4 L515.3,804.7 L517.9,807.2 L520.5,808.4 L523.1,811.4 L525.7,812.1 L528.3,819.5 L530.9,831.2 L533.5,838.1 L536.1,836.9 L538.7,832.3 L541.3,828.2 L543.9,828.2 L546.5,834.4 L549.1,841.8 L551.7,841.5 L554.3,839.3 L556.9,840.8 L559.5,843.1 L562.1,847.2 L564.7,849.3 L567.3,855.4 L569.9,856.7 L572.5,860.4 L575.1,858.0 L577.7,856.7 L580.3,859.6 L582.9,860.4 L585.5,855.5 L588.1,853.7 L590.7,852.7 L593.3,852.0 L595.9,848.4 L598.5,843.4 L601.1,840.8 L603.7,838.9 L606.3,838.3 L608.9,831.2 L611.5,826.3 L614.1,840.0 L616.7,837.4 L619.3,838.3 L621.9,838.6 L624.5,838.3 L627.1,840.0 L629.7,838.1 L632.3,836.6 L634.9,832.4 L637.5,829.7 L640.1,831.6 L642.7,834.9 L645.3,804.0 L647.9,833.1 L650.5,834.2 L653.1,836.6 L655.7,834.6 L658.3,829.7 L660.9,827.1 L663.5,825.4 L666.1,824.2 L668.7,824.6 L671.3,823.8 L673.9,821.1 L676.5,819.8 L679.1,812.6 L681.7,778.3 L684.3,792.0 L686.9,828.0 L689.5,830.3 L692.1,833.1 L694.7,840.0 L697.3,838.3 L699.9,834.5 L702.5,829.7 L705.1,827.8 L707.7,824.6 L710.3,823.1 L712.9,820.5 L715.5,821.1 L718.1,817.8 L720.7,816.0 L723.3,814.9 L725.9,815.0 L728.5,813.4 L731.1,812.6 L733.7,809.1 L736.3,807.2 L738.9,799.7 L741.5,802.4 L744.1,804.0 L746.7,808.4 L749.3,809.1 L751.9,813.1 L754.5,816.9 L757.1,820.2 L759.7,820.3 L762.3,820.8 L764.9,819.5 L767.5,820.2 L770.1,819.4 L772.7,809.1 L775.3,806.8 L777.9,804.0 L780.5,801.6 L783.1,798.0 L785.7,780.0 L788.3,788.6 L790.9,800.6 L793.5,800.5 L796.1,795.4 L798.7,794.4 L801.3,786.0 L803.9,778.3 L806.5,757.7 L809.1,768.0 L811.7,788.6 L814.3,800.6 L816.9,797.1 L819.5,796.0 L822.0,791.8 L824.6,788.4 L827.2,786.7 L829.8,786.1 L832.4,785.3 L835.0,791.2 L837.6,796.0 L840.2,798.7 L842.8,800.0 L845.4,788.0 L848.0,785.0 L850.6,786.7 L853.2,786.7 L855.8,801.3 L858.4,802.4 L861.0,801.6 L863.6,801.3 L866.2,795.1 L868.8,788.0 L871.4,785.8 L874.0,784.8 L876.6,771.4 L879.2,771.8 L881.8,773.3 L884.4,755.1 L887.0,727.6 L889.6,782.9 L892.2,794.3 L894.8,797.8 L897.4,800.0 L900.0,804.9 L902.6,807.6 L905.2,805.7 L907.8,796.2 L910.4,785.7 L913.0,785.0 L915.6,783.8 L918.2,782.1 L920.8,782.4 L923.4,781.0 L926.0,783.0 L928.6,784.8 L931.2,786.0 L933.8,785.7 L936.4,783.8 L939.0,781.2 L941.6,779.0 L944.2,773.3 L946.8,767.8 L949.4,763.8 L952.0,761.8 L954.6,761.9 L957.2,751.4 L959.8,749.3 L962.4,746.7 L965.0,744.8 L967.6,725.7 L970.2,693.3 L972.8,735.2 L975.4,734.6 L978.0,733.3 L980.6,732.3 L983.2,732.0 L985.8,731.4 L988.4,720.0 L991.0,715.2 L993.6,714.3 L996.2,709.5 L998.8,705.7 L1001.4,695.7 L1004.0,690.0 L1006.6,685.8 L1009.2,684.2 L1011.8,671.6 L1014.4,672.7 L1017.0,671.1 L1019.6,670.7 L1022.2,669.5 L1024.8,665.9 L1027.4,665.7 L1030.0,664.3 L1032.6,660.2 L1035.2,657.0 L1037.8,650.7 L1040.4,635.0 L1043.0,630.8 L1045.6,626.6 L1048.2,624.5 L1050.8,621.1 L1053.4,616.1 L1056.0,613.9 L1058.6,609.8 L1061.2,606.9 L1063.8,607.4 L1066.4,605.7 L1069.0,596.2 L1071.6,580.5 L1074.2,576.3 L1076.8,568.0 L1079.4,557.5 L1082.0,561.7 L1084.6,565.9 L1087.2,528.2 L1089.8,520.8 L1092.4,519.7 L1095.0,517.7 L1097.6,514.3 L1100.2,513.5 L1102.8,513.8 L1105.4,512.4 L1108.0,516.6 L1110.6,515.6 L1113.2,507.2 L1115.8,492.6 L1118.4,485.2 L1121.0,484.0 L1123.6,468.6 L1126.2,439.2 L1128.8,453.9 L1131.3,464.4 L1133.9,426.7 L1136.5,384.8 L1139.1,370.1 L1141.7,347.0 L1144.3,346.2 L1146.9,344.9 L1149.5,363.8 L1152.1,350.2 L1154.7,360.8 L1157.3,372.2 L1159.9,369.8 L1162.5,370.1 L1165.1,388.9 L1167.7,391.0 L1170.3,403.6 L1172.9,406.7 L1175.5,406.8 L1178.1,418.3 L1180.7,430.9 L1183.3,431.8 L1185.9,425.4 L1188.5,426.7 L1191.1,432.2 L1193.7,434.0 L1196.3,439.6 L1198.9,442.0 L1201.5,445.5 L1204.1,436.1 L1206.7,437.0 L1209.3,442.8 L1211.9,443.4 L1214.5,453.9 L1217.1,465.4 L1219.7,462.1 L1222.3,458.1 L1224.9,457.3 L1227.5,456.5 L1230.1,458.1 L1232.7,471.7 L1235.3,470.8 L1237.9,468.1 L1240.5,464.4 L1243.1,460.1 L1245.7,458.1 L1248.3,447.6 L1250.9,435.0 L1253.5,453.9 L1256.1,468.6 L1258.7,456.2 L1261.3,456.9 L1263.9,454.7 L1266.5,456.2 L1269.1,462.9 L1271.7,465.7 L1274.3,467.2 L1276.9,468.6 L1279.5,461.9 L1282.1,458.1 L1284.7,459.2 L1287.3,460.0 L1289.9,454.7 L1292.5,450.5 L1295.1,452.1 L1297.7,451.4 L1300.3,420.0 L1302.9,391.4 L1305.5,378.1 L1308.1,371.4 L1310.7,408.6 L1313.3,414.3 L1315.9,431.4 L1318.5,401.1 L1321.1,389.5 L1323.7,376.2 L1326.3,367.6 L1328.9,385.7 L1331.5,374.3 L1334.1,371.3 L1336.7,368.6 L1339.3,372.4 L1341.9,350.5 L1344.5,361.0 L1347.1,362.8 L1349.7,365.7 L1352.3,361.5 L1354.9,357.1 L1357.5,341.9 L1360.1,357.1 L1362.7,358.1 L1365.3,359.0 L1367.9,370.5 L1370.5,372.4 L1373.1,404.8 L1375.7,399.5 L1378.3,387.6 L1380.9,402.9 L1383.5,372.4 L1386.1,351.4 L1388.7,341.9 L1391.3,338.3 L1393.9,336.2 L1396.5,349.5 L1399.1,341.3 L1401.7,341.0 L1404.3,359.0 L1406.9,362.5 L1409.5,362.9 L1412.1,356.2 L1414.7,336.2 L1417.3,344.8 L1419.9,352.0 L1422.5,354.3 L1425.1,348.0 L1427.7,325.7 L1430.3,324.9 L1432.9,323.7 L1435.5,322.9 L1438.0,321.8 L1440.6,321.0 L1443.2,322.5 L1445.8,324.8 L1448.4,318.5 L1451.0,314.3 L1453.6,311.4 L1456.2,313.2 L1458.8,317.1 L1461.4,319.0 L1464.0,385.7 L1466.6,406.7 L1469.2,412.4 L1471.8,418.1 L1474.4,442.9 L1477.0,458.1 L1479.6,473.3 L1482.2,440.0 L1484.8,432.5 L1487.4,429.5 L1490.0,384.8 L1492.6,397.1 L1495.2,436.2 L1497.8,403.8 L1500.4,373.3 L1503.0,419.4 L1505.6,425.7 L1508.2,399.0 L1510.8,396.3 L1513.4,393.3 L1516.0,403.8 L1518.6,366.7 L1521.2,388.6 L1523.8,379.4 L1526.4,366.7 L1529.0,361.0 L1531.6,342.9 L1534.2,361.0 L1536.8,397.1 L1539.4,389.5 L1542.0,338.1 L1544.6,281.4 L1547.2,341.9 L1549.8,355.9 L1552.4,365.7 L1555.0,301.9 L1557.6,357.1 L1560.2,342.9 L1562.8,332.4 L1565.4,327.6 L1568.0,313.3 L1570.6,321.5 L1573.2,336.2 L1575.8,348.2 L1578.4,221.4 L1581.0,296.9 L1583.6,372.4 L1586.2,334.3 L1588.8,300.0 L1591.4,201.1" fill="none" stroke="#8da0cb" stroke-opacity="0.9" stroke-width="4" stroke-dasharray="14.8 6.4" stroke-linejoin="round"/>
<path d="M355.9,693.1h6.9v6.9h-6.9zM358.5,689.5h6.9v6.9h-6.9zM361.1,682.2h6.9v6.9h-6.9zM363.7,672.2h6.9v6.9h-6.9zM366.3,652.2h6.9v6.9h-6.9zM368.9,650.3h6.9v6.9h-6.9zM371.5,649.4h6.9v6.9h-6.9zM374.1,633.5h6.9v6.9h-6.9zM376.7,649.4h6.9v6.9h-6.9zM379.3,662.2h6.9v6.9h-6.9zM381.9,668.4h6.9v6.9h-6.9zM384.5,673.5h6.9v6.9h-6.9zM387.1,676.6h6.9v6.9h-6.9zM389.7,680.8h6.9v6.9h-6.9zM392.3,727.9h6.9v6.9h-6.9zM394.9,711.5h6.9v6.9h-6.9zM397.5,703.5h6.9v6.9h-6.9zM400.1,697.1h6.9v6.9h-6.9zM402.7,698.3h6.9v6.9h-6.9zM405.3,692.2h6.9v6.9h-6.9zM407.9,719.4h6.9v6.9h-6.9zM410.5,724.5h6.9v6.9h-6.9zM413.1,729.4h6.9v6.9h-6.9zM415.7,726.5h6.9v6.9h-6.9zM418.3,739.4h6.9v6.9h-6.9zM420.9,747.8h6.9v6.9h-6.9zM423.5,750.8h6.9v6.9h-6.9zM426.1,726.5h6.9v6.9h-6.9zM428.7,733.5h6.9v6.9h-6.9zM431.3,785.1h6.9v6.9h-6.9zM433.9,781.8h6.9v6.9h-6.9zM436.5,778.9h6.9v6.9h-6.9zM439.1,791.3h6.9v6.9h-6.9zM441.7,792.5h6.9v6.9h-6.9zM444.3,790.0h6.9v6.9h-6.9zM446.9,783.3h6.9v6.9h-6.9zM449.5,782.6h6.9v6.9h-6.9zM452.1,790.0h6.9v6.9h-6.9zM454.7,789.8h6.9v6.9h-6.9zM457.3,790.0h6.9v6.9h-6.9zM459.9,790.6h6.9v6.9h-6.9zM462.5,791.3h6.9v6.9h-6.9zM465.1,793.3h6.9v6.9h-6.9zM467.7,793.1h6.9v6.9h-6.9zM470.3,802.4h6.9v6.9h-6.9zM472.9,803.8h6.9v6.9h-6.9zM475.5,813.6h6.9v6.9h-6.9zM478.1,811.1h6.9v6.9h-6.9zM480.7,801.2h6.9v6.9h-6.9zM483.3,801.0h6.9v6.9h-6.9zM485.9,803.8h6.9v6.9h-6.9zM488.5,802.9h6.9v6.9h-6.9zM491.1,802.4h6.9v6.9h-6.9zM493.7,798.8h6.9v6.9h-6.9zM496.3,798.0h6.9v6.9h-6.9zM498.9,799.9h6.9v6.9h-6.9zM501.5,798.2h6.9v6.9h-6.9zM504.1,795.0h6.9v6.9h-6.9zM506.7,798.7h6.9v6.9h-6.9zM509.3,799.9h6.9v6.9h-6.9zM511.9,801.3h6.9v6.9h-6.9zM514.5,803.8h6.9v6.9h-6.9zM517.1,804.9h6.9v6.9h-6.9zM519.7,807.9h6.9v6.9h-6.9zM522.3,808.6h6.9v6.9h-6.9zM524.9,816.0h6.9v6.9h-6.9zM527.5,827.7h6.9v6.9h-6.9zM530.1,834.6h6.9v6.9h-6.9zM532.7,833.4h6.9v6.9h-6.9zM535.3,828.8h6.9v6.9h-6.9zM537.9,824.8h6.9v6.9h-6.9zM540.5,824.8h6.9v6.9h-6.9zM543.1,830.9h6.9v6.9h-6.9zM545.7,838.3h6.9v6.9h-6.9zM548.3,838.1h6.9v6.9h-6.9zM550.9,835.8h6.9v6.9h-6.9zM553.5,837.3h6.9v6.9h-6.9zM556.1,839.6h6.9v6.9h-6.9zM558.7,843.7h6.9v6.9h-6.9zM561.3,845.8h6.9v6.9h-6.9zM563.9,851.9h6.9v6.9h-6.9zM566.5,853.2h6.9v6.9h-6.9zM569.1,856.9h6.9v6.9h-6.9zM571.7,854.6h6.9v6.9h-6.9zM574.3,853.2h6.9v6.9h-6.9zM576.9,856.2h6.9v6.9h-6.9zM579.5,856.9h6.9v6.9h-6.9zM582.1,852.0h6.9v6.9h-6.9zM584.7,850.2h6.9v6.9h-6.9zM587.3,849.2h6.9v6.9h-6.9zM589.9,848.5h6.9v6.9h-6.9zM592.5,844.9h6.9v6.9h-6.9zM595.1,839.9h6.9v6.9h-6.9zM597.7,837.4h6.9v6.9h-6.9zM600.3,835.4h6.9v6.9h-6.9zM602.9,834.8h6.9v6.9h-6.9zM605.5,827.8h6.9v6.9h-6.9zM608.1,822.8h6.9v6.9h-6.9zM610.7,836.5h6.9v6.9h-6.9zM613.3,833.9h6.9v6.9h-6.9zM615.9,834.8h6.9v6.9h-6.9zM618.5,835.2h6.9v6.9h-6.9zM621.1,834.8h6.9v6.9h-6.9zM623.7,836.5h6.9v6.9h-6.9zM626.3,834.7h6.9v6.9h-6.9zM628.9,833.1h6.9v6.9h-6.9zM631.5,829.0h6.9v6.9h-6.9zM634.1,826.2h6.9v6.9h-6.9zM636.7,828.1h6.9v6.9h-6.9zM639.3,831.4h6.9v6.9h-6.9zM641.9,800.5h6.9v6.9h-6.9zM644.5,829.6h6.9v6.9h-6.9zM647.1,830.8h6.9v6.9h-6.9zM649.7,833.1h6.9v6.9h-6.9zM652.3,831.2h6.9v6.9h-6.9zM654.9,826.2h6.9v6.9h-6.9zM657.5,823.7h6.9v6.9h-6.9zM660.1,821.9h6.9v6.9h-6.9zM662.7,820.7h6.9v6.9h-6.9zM665.2,821.1h6.9v6.9h-6.9zM667.8,820.3h6.9v6.9h-6.9zM670.4,817.6h6.9v6.9h-6.9zM673.0,816.4h6.9v6.9h-6.9zM675.6,809.1h6.9v6.9h-6.9zM678.2,774.8h6.9v6.9h-6.9zM680.8,788.5h6.9v6.9h-6.9zM683.4,824.5h6.9v6.9h-6.9zM686.0,826.8h6.9v6.9h-6.9zM688.6,829.6h6.9v6.9h-6.9zM691.2,836.5h6.9v6.9h-6.9zM693.8,834.8h6.9v6.9h-6.9zM696.4,831.0h6.9v6.9h-6.9zM699.0,826.2h6.9v6.9h-6.9zM701.6,824.3h6.9v6.9h-6.9zM704.2,821.1h6.9v6.9h-6.9zM706.8,819.6h6.9v6.9h-6.9zM709.4,817.0h6.9v6.9h-6.9zM712.0,817.6h6.9v6.9h-6.9zM714.6,814.4h6.9v6.9h-6.9zM717.2,812.5h6.9v6.9h-6.9zM719.8,811.5h6.9v6.9h-6.9zM722.4,811.5h6.9v6.9h-6.9zM725.0,809.9h6.9v6.9h-6.9zM727.6,809.1h6.9v6.9h-6.9zM730.2,805.6h6.9v6.9h-6.9zM732.8,803.8h6.9v6.9h-6.9zM735.4,796.2h6.9v6.9h-6.9zM738.0,799.0h6.9v6.9h-6.9zM740.6,800.5h6.9v6.9h-6.9zM743.2,804.9h6.9v6.9h-6.9zM745.8,805.6h6.9v6.9h-6.9zM748.4,809.7h6.9v6.9h-6.9zM751.0,813.4h6.9v6.9h-6.9zM753.6,816.7h6.9v6.9h-6.9zM756.2,816.8h6.9v6.9h-6.9zM758.8,817.3h6.9v6.9h-6.9zM761.4,816.0h6.9v6.9h-6.9zM764.0,816.8h6.9v6.9h-6.9zM766.6,815.9h6.9v6.9h-6.9zM769.2,805.6h6.9v6.9h-6.9zM771.8,803.3h6.9v6.9h-6.9zM774.4,800.5h6.9v6.9h-6.9zM777.0,798.2h6.9v6.9h-6.9zM779.6,794.5h6.9v6.9h-6.9zM782.2,776.5h6.9v6.9h-6.9zM784.8,785.1h6.9v6.9h-6.9zM787.4,797.1h6.9v6.9h-6.9zM790.0,797.1h6.9v6.9h-6.9zM792.6,791.9h6.9v6.9h-6.9zM795.2,791.0h6.9v6.9h-6.9zM797.8,782.5h6.9v6.9h-6.9zM800.4,774.8h6.9v6.9h-6.9zM803.0,754.2h6.9v6.9h-6.9zM805.6,764.5h6.9v6.9h-6.9zM808.2,785.1h6.9v6.9h-6.9zM810.8,797.1h6.9v6.9h-6.9zM813.4,793.6h6.9v6.9h-6.9zM816.0,792.5h6.9v6.9h-6.9zM818.6,788.3h6.9v6.9h-6.9zM821.2,785.0h6.9v6.9h-6.9zM823.8,783.2h6.9v6.9h-6.9zM826.4,782.7h6.9v6.9h-6.9zM829.0,781.8h6.9v6.9h-6.9zM831.6,787.7h6.9v6.9h-6.9zM834.2,792.5h6.9v6.9h-6.9zM836.8,795.2h6.9v6.9h-6.9zM839.4,796.5h6.9v6.9h-6.9zM842.0,784.5h6.9v6.9h-6.9zM844.6,781.5h6.9v6.9h-6.9zM847.2,783.3h6.9v6.9h-6.9zM849.8,783.2h6.9v6.9h-6.9zM852.4,797.8h6.9v6.9h-6.9zM855.0,798.9h6.9v6.9h-6.9zM857.6,798.1h6.9v6.9h-6.9zM860.2,797.8h6.9v6.9h-6.9zM862.8,791.6h6.9v6.9h-6.9zM865.4,784.5h6.9v6.9h-6.9zM868.0,782.4h6.9v6.9h-6.9zM870.6,781.3h6.9v6.9h-6.9zM873.2,767.9h6.9v6.9h-6.9zM875.8,768.4h6.9v6.9h-6.9zM878.4,769.8h6.9v6.9h-6.9zM881.0,751.7h6.9v6.9h-6.9zM883.6,724.1h6.9v6.9h-6.9zM886.2,779.4h6.9v6.9h-6.9zM888.8,790.8h6.9v6.9h-6.9zM891.4,794.3h6.9v6.9h-6.9zM894.0,796.5h6.9v6.9h-6.9zM896.6,801.4h6.9v6.9h-6.9zM899.2,804.1h6.9v6.9h-6.9zM901.8,802.2h6.9v6.9h-6.9zM904.4,792.8h6.9v6.9h-6.9zM907.0,782.2h6.9v6.9h-6.9zM909.6,781.6h6.9v6.9h-6.9zM912.2,780.3h6.9v6.9h-6.9zM914.8,778.6h6.9v6.9h-6.9zM917.4,778.9h6.9v6.9h-6.9zM920.0,777.5h6.9v6.9h-6.9zM922.6,779.5h6.9v6.9h-6.9zM925.2,781.3h6.9v6.9h-6.9zM927.8,782.6h6.9v6.9h-6.9zM930.4,782.3h6.9v6.9h-6.9zM933.0,780.3h6.9v6.9h-6.9zM935.6,777.8h6.9v6.9h-6.9zM938.2,775.5h6.9v6.9h-6.9zM940.8,769.8h6.9v6.9h-6.9zM943.4,764.3h6.9v6.9h-6.9zM946.0,760.3h6.9v6.9h-6.9zM948.6,758.4h6.9v6.9h-6.9zM951.2,758.4h6.9v6.9h-6.9zM953.8,747.9h6.9v6.9h-6.9zM956.4,745.9h6.9v6.9h-6.9zM959.0,743.2h6.9v6.9h-6.9zM961.6,741.3h6.9v6.9h-6.9zM964.2,722.2h6.9v6.9h-6.9zM966.8,689.8h6.9v6.9h-6.9zM969.4,731.8h6.9v6.9h-6.9zM971.9,731.2h6.9v6.9h-6.9zM974.5,729.8h6.9v6.9h-6.9zM977.1,728.9h6.9v6.9h-6.9zM979.7,728.5h6.9v6.9h-6.9zM982.3,727.9h6.9v6.9h-6.9zM984.9,716.5h6.9v6.9h-6.9zM987.5,711.7h6.9v6.9h-6.9zM990.1,710.8h6.9v6.9h-6.9zM992.7,706.0h6.9v6.9h-6.9zM995.3,702.2h6.9v6.9h-6.9zM997.9,692.2h6.9v6.9h-6.9zM1000.5,686.5h6.9v6.9h-6.9zM1003.1,682.3h6.9v6.9h-6.9zM1005.7,680.8h6.9v6.9h-6.9zM1008.3,668.1h6.9v6.9h-6.9zM1010.9,669.3h6.9v6.9h-6.9zM1013.5,667.6h6.9v6.9h-6.9zM1016.1,667.3h6.9v6.9h-6.9zM1018.7,666.0h6.9v6.9h-6.9zM1021.3,662.4h6.9v6.9h-6.9zM1023.9,662.2h6.9v6.9h-6.9zM1026.5,660.8h6.9v6.9h-6.9zM1029.1,656.8h6.9v6.9h-6.9zM1031.7,653.5h6.9v6.9h-6.9zM1034.3,647.2h6.9v6.9h-6.9zM1036.9,631.5h6.9v6.9h-6.9zM1039.5,627.3h6.9v6.9h-6.9zM1042.1,623.1h6.9v6.9h-6.9zM1044.7,621.0h6.9v6.9h-6.9zM1047.3,617.7h6.9v6.9h-6.9zM1049.9,612.6h6.9v6.9h-6.9zM1052.5,610.5h6.9v6.9h-6.9zM1055.1,606.3h6.9v6.9h-6.9zM1057.7,603.4h6.9v6.9h-6.9zM1060.3,603.9h6.9v6.9h-6.9zM1062.9,602.2h6.9v6.9h-6.9zM1065.5,592.8h6.9v6.9h-6.9zM1068.1,577.0h6.9v6.9h-6.9zM1070.7,572.8h6.9v6.9h-6.9zM1073.3,564.5h6.9v6.9h-6.9zM1075.9,554.0h6.9v6.9h-6.9zM1078.5,558.3h6.9v6.9h-6.9zM1081.1,562.4h6.9v6.9h-6.9zM1083.7,524.8h6.9v6.9h-6.9zM1086.3,517.3h6.9v6.9h-6.9zM1088.9,516.2h6.9v6.9h-6.9zM1091.5,514.2h6.9v6.9h-6.9zM1094.1,510.8h6.9v6.9h-6.9zM1096.7,510.1h6.9v6.9h-6.9zM1099.3,510.4h6.9v6.9h-6.9zM1101.9,509.0h6.9v6.9h-6.9zM1104.5,513.2h6.9v6.9h-6.9zM1107.1,512.1h6.9v6.9h-6.9zM1109.7,503.8h6.9v6.9h-6.9zM1112.3,489.2h6.9v6.9h-6.9zM1114.9,481.8h6.9v6.9h-6.9zM1117.5,480.6h6.9v6.9h-6.9zM1120.1,465.2h6.9v6.9h-6.9zM1122.7,435.8h6.9v6.9h-6.9zM1125.3,450.4h6.9v6.9h-6.9zM1127.9,460.9h6.9v6.9h-6.9zM1130.5,423.2h6.9v6.9h-6.9zM1133.1,381.4h6.9v6.9h-6.9zM1135.7,366.7h6.9v6.9h-6.9zM1138.3,343.6h6.9v6.9h-6.9zM1140.9,342.8h6.9v6.9h-6.9zM1143.5,341.4h6.9v6.9h-6.9zM1146.1,360.4h6.9v6.9h-6.9zM1148.7,346.8h6.9v6.9h-6.9zM1151.3,357.3h6.9v6.9h-6.9zM1153.9,368.8h6.9v6.9h-6.9zM1156.5,366.3h6.9v6.9h-6.9zM1159.1,366.7h6.9v6.9h-6.9zM1161.7,385.4h6.9v6.9h-6.9zM1164.3,387.6h6.9v6.9h-6.9zM1166.9,400.2h6.9v6.9h-6.9zM1169.5,403.3h6.9v6.9h-6.9zM1172.1,403.4h6.9v6.9h-6.9zM1174.7,414.9h6.9v6.9h-6.9zM1177.3,427.4h6.9v6.9h-6.9zM1179.9,428.4h6.9v6.9h-6.9zM1182.5,421.9h6.9v6.9h-6.9zM1185.1,423.2h6.9v6.9h-6.9zM1187.7,428.7h6.9v6.9h-6.9zM1190.3,430.6h6.9v6.9h-6.9zM1192.9,436.2h6.9v6.9h-6.9zM1195.5,438.6h6.9v6.9h-6.9zM1198.1,442.1h6.9v6.9h-6.9zM1200.7,432.7h6.9v6.9h-6.9zM1203.3,433.6h6.9v6.9h-6.9zM1205.9,439.3h6.9v6.9h-6.9zM1208.5,439.9h6.9v6.9h-6.9zM1211.1,450.4h6.9v6.9h-6.9zM1213.7,461.9h6.9v6.9h-6.9zM1216.3,458.7h6.9v6.9h-6.9zM1218.9,454.7h6.9v6.9h-6.9zM1221.5,453.9h6.9v6.9h-6.9zM1224.1,453.1h6.9v6.9h-6.9zM1226.7,454.7h6.9v6.9h-6.9zM1229.3,468.2h6.9v6.9h-6.9zM1231.9,467.3h6.9v6.9h-6.9zM1234.5,464.6h6.9v6.9h-6.9zM1237.1,460.9h6.9v6.9h-6.9zM1239.7,456.6h6.9v6.9h-6.9zM1242.3,454.7h6.9v6.9h-6.9zM1244.9,444.2h6.9v6.9h-6.9zM1247.5,431.6h6.9v6.9h-6.9zM1250.1,450.4h6.9v6.9h-6.9zM1252.7,465.2h6.9v6.9h-6.9zM1255.3,452.8h6.9v6.9h-6.9zM1257.9,453.4h6.9v6.9h-6.9zM1260.5,451.3h6.9v6.9h-6.9zM1263.1,452.8h6.9v6.9h-6.9zM1265.7,459.5h6.9v6.9h-6.9zM1268.3,462.2h6.9v6.9h-6.9zM1270.9,463.8h6.9v6.9h-6.9zM1273.5,465.2h6.9v6.9h-6.9zM1276.1,458.4h6.9v6.9h-6.9zM1278.7,454.7h6.9v6.9h-6.9zM1281.2,455.8h6.9v6.9h-6.9zM1283.8,456.6h6.9v6.9h-6.9zM1286.4,451.2h6.9v6.9h-6.9zM1289.0,447.1h6.9v6.9h-6.9zM1291.6,448.6h6.9v6.9h-6.9zM1294.2,447.9h6.9v6.9h-6.9zM1296.8,416.6h6.9v6.9h-6.9zM1299.4,387.9h6.9v6.9h-6.9zM1302.0,374.7h6.9v6.9h-6.9zM1304.6,367.9h6.9v6.9h-6.9zM1307.2,405.2h6.9v6.9h-6.9zM1309.8,410.9h6.9v6.9h-6.9zM1312.4,427.9h6.9v6.9h-6.9zM1315.0,397.7h6.9v6.9h-6.9zM1317.6,386.1h6.9v6.9h-6.9zM1320.2,372.8h6.9v6.9h-6.9zM1322.8,364.2h6.9v6.9h-6.9zM1325.4,382.2h6.9v6.9h-6.9zM1328.0,370.9h6.9v6.9h-6.9zM1330.6,367.8h6.9v6.9h-6.9zM1333.2,365.2h6.9v6.9h-6.9zM1335.8,368.9h6.9v6.9h-6.9zM1338.4,347.1h6.9v6.9h-6.9zM1341.0,357.6h6.9v6.9h-6.9zM1343.6,359.4h6.9v6.9h-6.9zM1346.2,362.2h6.9v6.9h-6.9zM1348.8,358.1h6.9v6.9h-6.9zM1351.4,353.7h6.9v6.9h-6.9zM1354.0,338.4h6.9v6.9h-6.9zM1356.6,353.7h6.9v6.9h-6.9zM1359.2,354.6h6.9v6.9h-6.9zM1361.8,355.6h6.9v6.9h-6.9zM1364.4,367.1h6.9v6.9h-6.9zM1367.0,368.9h6.9v6.9h-6.9zM1369.6,401.4h6.9v6.9h-6.9zM1372.2,396.0h6.9v6.9h-6.9zM1374.8,384.2h6.9v6.9h-6.9zM1377.4,399.4h6.9v6.9h-6.9zM1380.0,368.9h6.9v6.9h-6.9zM1382.6,347.9h6.9v6.9h-6.9zM1385.2,338.4h6.9v6.9h-6.9zM1387.8,334.8h6.9v6.9h-6.9zM1390.4,332.8h6.9v6.9h-6.9zM1393.0,346.1h6.9v6.9h-6.9zM1395.6,337.8h6.9v6.9h-6.9zM1398.2,337.6h6.9v6.9h-6.9zM1400.8,355.6h6.9v6.9h-6.9zM1403.4,359.0h6.9v6.9h-6.9zM1406.0,359.4h6.9v6.9h-6.9zM1408.6,352.8h6.9v6.9h-6.9zM1411.2,332.8h6.9v6.9h-6.9zM1413.8,341.4h6.9v6.9h-6.9zM1416.4,348.6h6.9v6.9h-6.9zM1419.0,350.9h6.9v6.9h-6.9zM1421.6,344.5h6.9v6.9h-6.9zM1424.2,322.2h6.9v6.9h-6.9zM1426.8,321.4h6.9v6.9h-6.9zM1429.4,320.3h6.9v6.9h-6.9zM1432.0,319.4h6.9v6.9h-6.9zM1434.6,318.4h6.9v6.9h-6.9zM1437.2,317.6h6.9v6.9h-6.9zM1439.8,319.1h6.9v6.9h-6.9zM1442.4,321.4h6.9v6.9h-6.9zM1445.0,315.1h6.9v6.9h-6.9zM1447.6,310.9h6.9v6.9h-6.9zM1450.2,307.9h6.9v6.9h-6.9zM1452.8,309.7h6.9v6.9h-6.9zM1455.4,313.7h6.9v6.9h-6.9zM1458.0,315.6h6.9v6.9h-6.9zM1460.6,382.2h6.9v6.9h-6.9zM1463.2,403.2h6.9v6.9h-6.9zM1465.8,408.9h6.9v6.9h-6.9zM1468.4,414.7h6.9v6.9h-6.9zM1471.0,439.4h6.9v6.9h-6.9zM1473.6,454.7h6.9v6.9h-6.9zM1476.2,469.9h6.9v6.9h-6.9zM1478.8,436.6h6.9v6.9h-6.9zM1481.4,429.1h6.9v6.9h-6.9zM1484.0,426.1h6.9v6.9h-6.9zM1486.6,381.4h6.9v6.9h-6.9zM1489.2,393.7h6.9v6.9h-6.9zM1491.8,432.8h6.9v6.9h-6.9zM1494.4,400.4h6.9v6.9h-6.9zM1497.0,369.9h6.9v6.9h-6.9zM1499.6,415.9h6.9v6.9h-6.9zM1502.2,422.2h6.9v6.9h-6.9zM1504.8,395.6h6.9v6.9h-6.9zM1507.4,392.9h6.9v6.9h-6.9zM1510.0,389.9h6.9v6.9h-6.9zM1512.6,400.4h6.9v6.9h-6.9zM1515.2,363.2h6.9v6.9h-6.9zM1517.8,385.2h6.9v6.9h-6.9zM1520.4,375.9h6.9v6.9h-6.9zM1523.0,363.2h6.9v6.9h-6.9zM1525.6,357.6h6.9v6.9h-6.9zM1528.2,339.4h6.9v6.9h-6.9zM1530.8,357.6h6.9v6.9h-6.9zM1533.4,393.7h6.9v6.9h-6.9zM1536.0,386.1h6.9v6.9h-6.9zM1538.6,334.7h6.9v6.9h-6.9zM1541.2,277.9h6.9v6.9h-6.9zM1543.8,338.4h6.9v6.9h-6.9zM1546.4,352.5h6.9v6.9h-6.9zM1549.0,362.2h6.9v6.9h-6.9zM1551.6,298.4h6.9v6.9h-6.9zM1554.2,353.7h6.9v6.9h-6.9zM1556.8,339.4h6.9v6.9h-6.9zM1559.4,328.9h6.9v6.9h-6.9zM1562.0,324.2h6.9v6.9h-6.9zM1564.6,309.9h6.9v6.9h-6.9zM1567.2,318.0h6.9v6.9h-6.9zM1569.8,332.8h6.9v6.9h-6.9zM1572.4,344.7h6.9v6.9h-6.9zM1575.0,218.0h6.9v6.9h-6.9zM1577.6,293.4h6.9v6.9h-6.9zM1580.2,368.9h6.9v6.9h-6.9zM1582.8,330.9h6.9v6.9h-6.9zM1585.4,296.6h6.9v6.9h-6.9zM1588.0,197.7h6.9v6.9h-6.9z" fill="#8da0cb" fill-opacity="0.9" stroke="#8da0cb" stroke-width="0.8"/>
</g>
<rect x="298" y="77" width="1360" height="856.3" fill="none" stroke="#262626" stroke-width="3.9"/>
<g stroke="#262626" stroke-width="3.9">
<path d="M302.3,933.3v18.5"/>
<path d="M437.8,933.3v18.5"/>
<path d="M573.2,933.3v18.5"/>
<path d="M708.7,933.3v18.5"/>
<path d="M844.2,933.3v18.5"/>
<path d="M979.7,933.3v18.5"/>
<path d="M1115.1,933.3v18.5"/>
<path d="M1250.6,933.3v18.5"/>
<path d="M1386.1,933.3v18.5"/>
<path d="M1521.5,933.3v18.5"/>
<path d="M1657.0,933.3v18.5"/>
<path d="M298,212.4h-18.8"/>
<path d="M298,368.3h-18.8"/>
<path d="M298,524.2h-18.8"/>
<path d="M298,680.1h-18.8"/>
<path d="M298,836.0h-18.8"/>
</g>
<g fill="#262626" font-size="35" stroke="#262626" stroke-width="0.35">
<text x="301.8" y="985.2" text-anchor="middle" textLength="86" lengthAdjust="spacingAndGlyphs">2016</text>
<text x="437.3" y="985.2" text-anchor="middle" textLength="86" lengthAdjust="spacingAndGlyphs">2017</text>
<text x="572.7" y="985.2" text-anchor="middle" textLength="86" lengthAdjust="spacingAndGlyphs">2018</text>
<text x="708.2" y="985.2" text-anchor="middle" textLength="86" lengthAdjust="spacingAndGlyphs">2019</text>
<text x="843.7" y="985.2" text-anchor="middle" textLength="86" lengthAdjust="spacingAndGlyphs">2020</text>
<text x="979.2" y="985.2" text-anchor="middle" textLength="86" lengthAdjust="spacingAndGlyphs">2021</text>
<text x="1114.6" y="985.2" text-anchor="middle" textLength="86" lengthAdjust="spacingAndGlyphs">2022</text>
<text x="1250.1" y="985.2" text-anchor="middle" textLength="86" lengthAdjust="spacingAndGlyphs">2023</text>
<text x="1385.6" y="985.2" text-anchor="middle" textLength="86" lengthAdjust="spacingAndGlyphs">2024</text>
<text x="1521.0" y="985.2" text-anchor="middle" textLength="86" lengthAdjust="spacingAndGlyphs">2025</text>
<text x="1656.5" y="985.2" text-anchor="middle" textLength="86" lengthAdjust="spacingAndGlyphs">2026</text>
<text x="272.2" y="225.0" text-anchor="end" textLength="142.5" lengthAdjust="spacingAndGlyphs">400 000</text>
<text x="272.2" y="380.9" text-anchor="end" textLength="142.5" lengthAdjust="spacingAndGlyphs">350 000</text>
<text x="272.2" y="536.8" text-anchor="end" textLength="142.5" lengthAdjust="spacingAndGlyphs">300 000</text>
<text x="272.2" y="692.7" text-anchor="end" textLength="142.5" lengthAdjust="spacingAndGlyphs">250 000</text>
<text x="272.2" y="848.6" text-anchor="end" textLength="142.5" lengthAdjust="spacingAndGlyphs">200 000</text>
</g>
<text x="978" y="1020" text-anchor="middle" font-size="25.5" fill="#262626" stroke="#262626" stroke-width="0.25" textLength="67.5" lengthAdjust="spacingAndGlyphs">Дата</text>
<text transform="translate(116.4,506) rotate(-90)" text-anchor="middle" font-size="25.5" fill="#262626" stroke="#262626" stroke-width="0.25" textLength="156" lengthAdjust="spacingAndGlyphs">Цена за м², ₽</text>
<text x="627.0" y="27" font-size="29.7" font-weight="bold" fill="#262626" stroke="#262626" stroke-width="0.5" textLength="165.5" lengthAdjust="spacingAndGlyphs">Продажа</text>
<text x="806.5" y="27" font-size="29.7" font-weight="bold" fill="#262626" stroke="#262626" stroke-width="0.5" textLength="160.1" lengthAdjust="spacingAndGlyphs">квартир:</text>
<text x="977.5" y="27" font-size="29.7" font-weight="bold" fill="#262626" stroke="#262626" stroke-width="0.5" textLength="54.0" lengthAdjust="spacingAndGlyphs">ул.</text>
<text x="1043.0" y="27" font-size="29.7" font-weight="bold" fill="#262626" stroke="#262626" stroke-width="0.5" textLength="231.0" lengthAdjust="spacingAndGlyphs">Октябрьская</text>
<text x="1285.5" y="27" font-size="29.7" font-weight="bold" fill="#262626" stroke="#262626" stroke-width="0.5" textLength="41.6" lengthAdjust="spacingAndGlyphs">19</text>
<rect x="1538.2" y="137.6" width="115.29999999999995" height="27.400000000000006" rx="4" fill="#66c2a5" fill-opacity="0.76"/>
<text x="1595.85" y="157.2" text-anchor="middle" font-size="19.1" font-weight="bold" fill="#fff" stroke="#fff" stroke-width="0.5" textLength="105" lengthAdjust="spacingAndGlyphs">419 029 ₽</text>
<rect x="1532.3" y="153.7" width="127.40000000000009" height="30.200000000000017" rx="4" fill="#fc8d62" fill-opacity="0.8"/>
<text x="1596.0" y="175.4" text-anchor="middle" font-size="21.2" font-weight="bold" fill="#fff" stroke="#fff" stroke-width="0.5" textLength="116.5" lengthAdjust="spacingAndGlyphs">413 593 ₽</text>
<rect x="1532.3" y="184.4" width="127.40000000000009" height="31.799999999999983" rx="4" fill="#8da0cb" fill-opacity="0.9"/>
<text x="1596.0" y="206.9" text-anchor="middle" font-size="21.2" font-weight="bold" fill="#fff" stroke="#fff" stroke-width="0.5" textLength="116.5" lengthAdjust="spacingAndGlyphs">403 625 ₽</text>
<path d="M1480,102.9H1516" stroke="#66c2a5" stroke-opacity="0.85" stroke-width="4" stroke-dasharray="4 6.6"/>
<g opacity="0.9"><path d="M1480,130.7H1516" stroke="#fc8d62" stroke-width="4"/><path d="M1494.7,126.19999999999999L1503,130.7L1494.7,135.2z" fill="#fc8d62"/></g>
<g opacity="0.9"><path d="M1480,158.9H1516" stroke="#8da0cb" stroke-width="4"/><rect x="1494.95" y="155.05" width="7.7" height="7.7" fill="#8da0cb"/></g>
<text x="1533" y="109.3" font-size="19.2" fill="#262626" textLength="108" lengthAdjust="spacingAndGlyphs">1-комн. кв.</text>
<text x="1533" y="137.3" font-size="19.2" fill="#262626" textLength="108" lengthAdjust="spacingAndGlyphs">2-комн. кв.</text>
<text x="1533" y="165.5" font-size="19.2" fill="#262626" textLength="108" lengthAdjust="spacingAndGlyphs">3-комн. кв.</text>
</svg></body></html>
